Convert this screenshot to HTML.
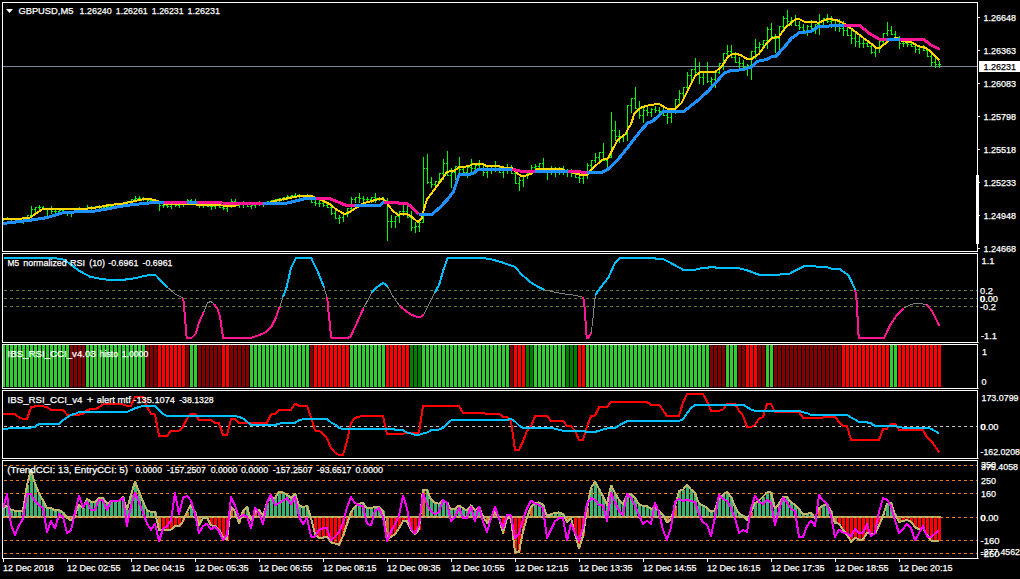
<!DOCTYPE html><html><head><meta charset="utf-8"><title>GBPUSD,M5</title><style>html,body{margin:0;padding:0;background:#000;}body{width:1020px;height:579px;overflow:hidden;font-family:"Liberation Sans", sans-serif;}svg{display:block;font-family:"Liberation Sans", sans-serif;}</style></head><body>
<svg width="1020" height="579" viewBox="0 0 1020 579">
<rect width="1020" height="579" fill="#000"/>
<g shape-rendering="crispEdges">
<rect x="2" y="508.3" width="3" height="8.7" fill="#3CB371"/>
<rect x="6" y="505.4" width="3" height="11.6" fill="#3CB371"/>
<rect x="10" y="509.5" width="3" height="7.5" fill="#3CB371"/>
<rect x="14" y="511" width="3" height="6" fill="#3CB371"/>
<rect x="18" y="511" width="3" height="6" fill="#3CB371"/>
<rect x="22" y="510.6" width="3" height="6.4" fill="#3CB371"/>
<rect x="26" y="485.4" width="3" height="31.6" fill="#3CB371"/>
<rect x="30" y="469.5" width="3" height="47.5" fill="#3CB371"/>
<rect x="34" y="484" width="3" height="33" fill="#3CB371"/>
<rect x="38" y="493" width="3" height="24" fill="#3CB371"/>
<rect x="42" y="500.6" width="3" height="16.4" fill="#3CB371"/>
<rect x="46" y="508.3" width="3" height="8.7" fill="#3CB371"/>
<rect x="50" y="507.7" width="3" height="9.3" fill="#3CB371"/>
<rect x="54" y="510.6" width="3" height="6.4" fill="#3CB371"/>
<rect x="58" y="509.8" width="3" height="7.2" fill="#3CB371"/>
<rect x="62" y="512.4" width="3" height="4.6" fill="#3CB371"/>
<rect x="66" y="517" width="3" height="0.8" fill="#D2691E"/>
<rect x="70" y="517" width="3" height="3.6" fill="#FF0000"/>
<rect x="74" y="514.8" width="3" height="2.2" fill="#D2691E"/>
<rect x="78" y="504.8" width="3" height="12.2" fill="#3CB371"/>
<rect x="82" y="508.3" width="3" height="8.7" fill="#3CB371"/>
<rect x="86" y="498.9" width="3" height="18.1" fill="#3CB371"/>
<rect x="90" y="501.8" width="3" height="15.2" fill="#3CB371"/>
<rect x="94" y="501.8" width="3" height="15.2" fill="#3CB371"/>
<rect x="98" y="498" width="3" height="19" fill="#3CB371"/>
<rect x="102" y="498.3" width="3" height="18.7" fill="#3CB371"/>
<rect x="106" y="503.6" width="3" height="13.4" fill="#3CB371"/>
<rect x="110" y="501.2" width="3" height="15.8" fill="#3CB371"/>
<rect x="114" y="500.9" width="3" height="16.1" fill="#3CB371"/>
<rect x="118" y="500.6" width="3" height="16.4" fill="#3CB371"/>
<rect x="122" y="497.1" width="3" height="19.9" fill="#3CB371"/>
<rect x="126" y="509.5" width="3" height="7.5" fill="#3CB371"/>
<rect x="130" y="494.8" width="3" height="22.2" fill="#3CB371"/>
<rect x="134" y="481.6" width="3" height="35.4" fill="#3CB371"/>
<rect x="138" y="491.8" width="3" height="25.2" fill="#3CB371"/>
<rect x="142" y="501.8" width="3" height="15.2" fill="#3CB371"/>
<rect x="146" y="510.3" width="3" height="6.7" fill="#3CB371"/>
<rect x="150" y="511.8" width="3" height="5.2" fill="#3CB371"/>
<rect x="154" y="511.8" width="3" height="5.2" fill="#3CB371"/>
<rect x="158" y="517" width="3" height="13" fill="#D2691E"/>
<rect x="162" y="517" width="3" height="13" fill="#FF0000"/>
<rect x="166" y="517" width="3" height="13" fill="#FF0000"/>
<rect x="170" y="517" width="3" height="12.5" fill="#FF0000"/>
<rect x="174" y="517" width="3" height="9" fill="#FF0000"/>
<rect x="178" y="517" width="3" height="9.5" fill="#FF0000"/>
<rect x="182" y="517" width="3" height="4.2" fill="#FF0000"/>
<rect x="186" y="511.8" width="3" height="5.2" fill="#D2691E"/>
<rect x="190" y="504.8" width="3" height="12.2" fill="#3CB371"/>
<rect x="194" y="512.4" width="3" height="4.6" fill="#3CB371"/>
<rect x="198" y="517" width="3" height="7.8" fill="#D2691E"/>
<rect x="202" y="517" width="3" height="1.3" fill="#FF0000"/>
<rect x="206" y="517" width="3" height="0.7" fill="#FF0000"/>
<rect x="210" y="517" width="3" height="8.4" fill="#FF0000"/>
<rect x="214" y="517" width="3" height="9" fill="#FF0000"/>
<rect x="218" y="517" width="3" height="12.5" fill="#FF0000"/>
<rect x="222" y="517" width="3" height="20.7" fill="#FF0000"/>
<rect x="226" y="517" width="3" height="22.5" fill="#FF0000"/>
<rect x="230" y="506.5" width="3" height="10.5" fill="#D2691E"/>
<rect x="234" y="511.5" width="3" height="5.5" fill="#3CB371"/>
<rect x="238" y="517" width="3" height="6" fill="#D2691E"/>
<rect x="242" y="511.2" width="3" height="5.8" fill="#D2691E"/>
<rect x="246" y="506.5" width="3" height="10.5" fill="#3CB371"/>
<rect x="250" y="517" width="3" height="3.6" fill="#D2691E"/>
<rect x="254" y="511.8" width="3" height="5.2" fill="#D2691E"/>
<rect x="258" y="509.5" width="3" height="7.5" fill="#3CB371"/>
<rect x="262" y="516" width="3" height="1" fill="#3CB371"/>
<rect x="266" y="503" width="3" height="14" fill="#3CB371"/>
<rect x="270" y="496.5" width="3" height="20.5" fill="#3CB371"/>
<rect x="274" y="498.3" width="3" height="18.7" fill="#3CB371"/>
<rect x="278" y="491.5" width="3" height="25.5" fill="#3CB371"/>
<rect x="282" y="492.4" width="3" height="24.6" fill="#3CB371"/>
<rect x="286" y="494.8" width="3" height="22.2" fill="#3CB371"/>
<rect x="290" y="497.7" width="3" height="19.3" fill="#3CB371"/>
<rect x="294" y="494.2" width="3" height="22.8" fill="#3CB371"/>
<rect x="298" y="505.4" width="3" height="11.6" fill="#3CB371"/>
<rect x="302" y="507.1" width="3" height="9.9" fill="#3CB371"/>
<rect x="306" y="506" width="3" height="11" fill="#3CB371"/>
<rect x="310" y="517" width="3" height="0.9" fill="#D2691E"/>
<rect x="314" y="517" width="3" height="16.6" fill="#FF0000"/>
<rect x="318" y="517" width="3" height="20.7" fill="#FF0000"/>
<rect x="322" y="517" width="3" height="20.7" fill="#FF0000"/>
<rect x="326" y="517" width="3" height="19.5" fill="#FF0000"/>
<rect x="330" y="517" width="3" height="25.4" fill="#FF0000"/>
<rect x="334" y="517" width="3" height="26.6" fill="#FF0000"/>
<rect x="338" y="517" width="3" height="27.8" fill="#FF0000"/>
<rect x="342" y="517" width="3" height="19" fill="#FF0000"/>
<rect x="346" y="517" width="3" height="7.2" fill="#FF0000"/>
<rect x="350" y="511.8" width="3" height="5.2" fill="#D2691E"/>
<rect x="354" y="507.1" width="3" height="9.9" fill="#3CB371"/>
<rect x="358" y="503.6" width="3" height="13.4" fill="#3CB371"/>
<rect x="362" y="503" width="3" height="14" fill="#3CB371"/>
<rect x="366" y="508.3" width="3" height="8.7" fill="#3CB371"/>
<rect x="370" y="508.3" width="3" height="8.7" fill="#3CB371"/>
<rect x="374" y="506.5" width="3" height="10.5" fill="#3CB371"/>
<rect x="378" y="506.5" width="3" height="10.5" fill="#3CB371"/>
<rect x="382" y="510.6" width="3" height="6.4" fill="#3CB371"/>
<rect x="386" y="517" width="3" height="21.3" fill="#D2691E"/>
<rect x="390" y="517" width="3" height="20.1" fill="#FF0000"/>
<rect x="394" y="517" width="3" height="17.2" fill="#FF0000"/>
<rect x="398" y="517" width="3" height="11.3" fill="#FF0000"/>
<rect x="402" y="517" width="3" height="4.2" fill="#FF0000"/>
<rect x="406" y="517" width="3" height="4.2" fill="#FF0000"/>
<rect x="410" y="517" width="3" height="13" fill="#FF0000"/>
<rect x="414" y="517" width="3" height="17.2" fill="#FF0000"/>
<rect x="418" y="517" width="3" height="12.5" fill="#FF0000"/>
<rect x="422" y="489.5" width="3" height="27.5" fill="#D2691E"/>
<rect x="426" y="490" width="3" height="27" fill="#3CB371"/>
<rect x="430" y="499.5" width="3" height="17.5" fill="#3CB371"/>
<rect x="434" y="503" width="3" height="14" fill="#3CB371"/>
<rect x="438" y="503.6" width="3" height="13.4" fill="#3CB371"/>
<rect x="442" y="500.6" width="3" height="16.4" fill="#3CB371"/>
<rect x="446" y="502.4" width="3" height="14.6" fill="#3CB371"/>
<rect x="450" y="509.5" width="3" height="7.5" fill="#3CB371"/>
<rect x="454" y="508.9" width="3" height="8.1" fill="#3CB371"/>
<rect x="458" y="505.4" width="3" height="11.6" fill="#3CB371"/>
<rect x="462" y="508.3" width="3" height="8.7" fill="#3CB371"/>
<rect x="466" y="510.6" width="3" height="6.4" fill="#3CB371"/>
<rect x="470" y="505.4" width="3" height="11.6" fill="#3CB371"/>
<rect x="474" y="510.6" width="3" height="6.4" fill="#3CB371"/>
<rect x="478" y="506.5" width="3" height="10.5" fill="#3CB371"/>
<rect x="486" y="517" width="3" height="6" fill="#D2691E"/>
<rect x="494" y="511.8" width="3" height="5.2" fill="#D2691E"/>
<rect x="498" y="517" width="3" height="1.3" fill="#D2691E"/>
<rect x="502" y="517" width="3" height="16" fill="#FF0000"/>
<rect x="506" y="517" width="3" height="1.3" fill="#FF0000"/>
<rect x="510" y="517" width="3" height="1.3" fill="#FF0000"/>
<rect x="514" y="517" width="3" height="35.4" fill="#FF0000"/>
<rect x="518" y="517" width="3" height="35.4" fill="#FF0000"/>
<rect x="522" y="517" width="3" height="14.2" fill="#FF0000"/>
<rect x="526" y="517" width="3" height="0.7" fill="#FF0000"/>
<rect x="530" y="506.5" width="3" height="10.5" fill="#D2691E"/>
<rect x="534" y="503" width="3" height="14" fill="#3CB371"/>
<rect x="538" y="502.4" width="3" height="14.6" fill="#3CB371"/>
<rect x="542" y="504.8" width="3" height="12.2" fill="#3CB371"/>
<rect x="546" y="516" width="3" height="1" fill="#3CB371"/>
<rect x="550" y="514.2" width="3" height="2.8" fill="#3CB371"/>
<rect x="554" y="513" width="3" height="4" fill="#3CB371"/>
<rect x="558" y="512.4" width="3" height="4.6" fill="#3CB371"/>
<rect x="562" y="514.2" width="3" height="2.8" fill="#3CB371"/>
<rect x="566" y="517" width="3" height="4.8" fill="#D2691E"/>
<rect x="570" y="517" width="3" height="1.3" fill="#FF0000"/>
<rect x="574" y="517" width="3" height="16.6" fill="#FF0000"/>
<rect x="578" y="517" width="3" height="31.3" fill="#FF0000"/>
<rect x="582" y="517" width="3" height="19" fill="#FF0000"/>
<rect x="586" y="508.3" width="3" height="8.7" fill="#D2691E"/>
<rect x="590" y="487.7" width="3" height="29.3" fill="#3CB371"/>
<rect x="594" y="481.6" width="3" height="35.4" fill="#3CB371"/>
<rect x="598" y="489" width="3" height="28" fill="#3CB371"/>
<rect x="602" y="496.5" width="3" height="20.5" fill="#3CB371"/>
<rect x="606" y="504.8" width="3" height="12.2" fill="#3CB371"/>
<rect x="610" y="485.4" width="3" height="31.6" fill="#3CB371"/>
<rect x="614" y="493" width="3" height="24" fill="#3CB371"/>
<rect x="618" y="500" width="3" height="17" fill="#3CB371"/>
<rect x="622" y="504.2" width="3" height="12.8" fill="#3CB371"/>
<rect x="626" y="494.8" width="3" height="22.2" fill="#3CB371"/>
<rect x="630" y="494.2" width="3" height="22.8" fill="#3CB371"/>
<rect x="634" y="498.3" width="3" height="18.7" fill="#3CB371"/>
<rect x="638" y="504.2" width="3" height="12.8" fill="#3CB371"/>
<rect x="642" y="506" width="3" height="11" fill="#3CB371"/>
<rect x="646" y="506" width="3" height="11" fill="#3CB371"/>
<rect x="650" y="508.9" width="3" height="8.1" fill="#3CB371"/>
<rect x="654" y="507.7" width="3" height="9.3" fill="#3CB371"/>
<rect x="658" y="510.6" width="3" height="6.4" fill="#3CB371"/>
<rect x="662" y="514.8" width="3" height="2.2" fill="#3CB371"/>
<rect x="666" y="517" width="3" height="5.4" fill="#D2691E"/>
<rect x="670" y="517" width="3" height="2.5" fill="#FF0000"/>
<rect x="674" y="506" width="3" height="11" fill="#D2691E"/>
<rect x="678" y="491.2" width="3" height="25.8" fill="#3CB371"/>
<rect x="682" y="489.5" width="3" height="27.5" fill="#3CB371"/>
<rect x="686" y="484.8" width="3" height="32.2" fill="#3CB371"/>
<rect x="690" y="489.5" width="3" height="27.5" fill="#3CB371"/>
<rect x="694" y="493" width="3" height="24" fill="#3CB371"/>
<rect x="698" y="503.6" width="3" height="13.4" fill="#3CB371"/>
<rect x="702" y="505.4" width="3" height="11.6" fill="#3CB371"/>
<rect x="706" y="507.7" width="3" height="9.3" fill="#3CB371"/>
<rect x="710" y="511.8" width="3" height="5.2" fill="#3CB371"/>
<rect x="714" y="510" width="3" height="7" fill="#3CB371"/>
<rect x="718" y="498.3" width="3" height="18.7" fill="#3CB371"/>
<rect x="722" y="494.8" width="3" height="22.2" fill="#3CB371"/>
<rect x="726" y="491.8" width="3" height="25.2" fill="#3CB371"/>
<rect x="730" y="497.1" width="3" height="19.9" fill="#3CB371"/>
<rect x="734" y="506.5" width="3" height="10.5" fill="#3CB371"/>
<rect x="738" y="513.6" width="3" height="3.4" fill="#3CB371"/>
<rect x="742" y="515.4" width="3" height="1.6" fill="#3CB371"/>
<rect x="746" y="517" width="3" height="3.6" fill="#D2691E"/>
<rect x="750" y="511.8" width="3" height="5.2" fill="#D2691E"/>
<rect x="754" y="503" width="3" height="14" fill="#3CB371"/>
<rect x="758" y="500.6" width="3" height="16.4" fill="#3CB371"/>
<rect x="762" y="496.5" width="3" height="20.5" fill="#3CB371"/>
<rect x="766" y="492.4" width="3" height="24.6" fill="#3CB371"/>
<rect x="770" y="492.4" width="3" height="24.6" fill="#3CB371"/>
<rect x="774" y="508.3" width="3" height="8.7" fill="#3CB371"/>
<rect x="778" y="503.6" width="3" height="13.4" fill="#3CB371"/>
<rect x="782" y="497.1" width="3" height="19.9" fill="#3CB371"/>
<rect x="786" y="497.1" width="3" height="19.9" fill="#3CB371"/>
<rect x="790" y="502.4" width="3" height="14.6" fill="#3CB371"/>
<rect x="794" y="504.8" width="3" height="12.2" fill="#3CB371"/>
<rect x="798" y="508.9" width="3" height="8.1" fill="#3CB371"/>
<rect x="802" y="514.2" width="3" height="2.8" fill="#3CB371"/>
<rect x="806" y="513.6" width="3" height="3.4" fill="#3CB371"/>
<rect x="810" y="513" width="3" height="4" fill="#3CB371"/>
<rect x="814" y="517" width="3" height="0.7" fill="#D2691E"/>
<rect x="818" y="508.3" width="3" height="8.7" fill="#D2691E"/>
<rect x="822" y="505.4" width="3" height="11.6" fill="#3CB371"/>
<rect x="826" y="504.2" width="3" height="12.8" fill="#3CB371"/>
<rect x="830" y="511.2" width="3" height="5.8" fill="#3CB371"/>
<rect x="834" y="517" width="3" height="6" fill="#D2691E"/>
<rect x="838" y="517" width="3" height="6.6" fill="#FF0000"/>
<rect x="842" y="517" width="3" height="13" fill="#FF0000"/>
<rect x="846" y="517" width="3" height="17.8" fill="#FF0000"/>
<rect x="850" y="517" width="3" height="24.8" fill="#FF0000"/>
<rect x="854" y="517" width="3" height="20.7" fill="#FF0000"/>
<rect x="858" y="517" width="3" height="22.5" fill="#FF0000"/>
<rect x="862" y="517" width="3" height="22.5" fill="#FF0000"/>
<rect x="866" y="517" width="3" height="16" fill="#FF0000"/>
<rect x="870" y="517" width="3" height="16.6" fill="#FF0000"/>
<rect x="874" y="517" width="3" height="16.6" fill="#FF0000"/>
<rect x="878" y="517" width="3" height="8.4" fill="#FF0000"/>
<rect x="882" y="516" width="3" height="1" fill="#D2691E"/>
<rect x="886" y="503.6" width="3" height="13.4" fill="#3CB371"/>
<rect x="890" y="503" width="3" height="14" fill="#3CB371"/>
<rect x="894" y="514.2" width="3" height="2.8" fill="#3CB371"/>
<rect x="898" y="517" width="3" height="4.8" fill="#D2691E"/>
<rect x="902" y="517" width="3" height="4.2" fill="#FF0000"/>
<rect x="906" y="517" width="3" height="3" fill="#FF0000"/>
<rect x="910" y="517" width="3" height="4.8" fill="#FF0000"/>
<rect x="914" y="517" width="3" height="10.1" fill="#FF0000"/>
<rect x="918" y="517" width="3" height="12.5" fill="#FF0000"/>
<rect x="922" y="517" width="3" height="11.3" fill="#FF0000"/>
<rect x="926" y="517" width="3" height="17.8" fill="#FF0000"/>
<rect x="930" y="517" width="3" height="23.6" fill="#FF0000"/>
<rect x="934" y="517" width="3" height="23.6" fill="#FF0000"/>
<rect x="938" y="517" width="3" height="23.6" fill="#FF0000"/>
</g>
<rect x="3" y="516" width="938" height="2" fill="#BDB76B" shape-rendering="crispEdges"/>
<line x1="4" y1="465.5" x2="977" y2="465.5" stroke="#E27A22" stroke-width="1" stroke-dasharray="3 3" shape-rendering="crispEdges"/>
<line x1="4" y1="480.5" x2="977" y2="480.5" stroke="#E27A22" stroke-width="1" stroke-dasharray="3 3" shape-rendering="crispEdges"/>
<line x1="4" y1="493.5" x2="977" y2="493.5" stroke="#E27A22" stroke-width="1" stroke-dasharray="3 3" shape-rendering="crispEdges"/>
<line x1="4" y1="517.5" x2="977" y2="517.5" stroke="#E27A22" stroke-width="1" stroke-dasharray="3 3" shape-rendering="crispEdges"/>
<line x1="4" y1="540.5" x2="977" y2="540.5" stroke="#E27A22" stroke-width="1" stroke-dasharray="3 3" shape-rendering="crispEdges"/>
<line x1="4" y1="553.5" x2="977" y2="553.5" stroke="#E27A22" stroke-width="1" stroke-dasharray="3 3" shape-rendering="crispEdges"/>
<polyline points="3,508.3 7,505.4 11,509.5 15,511 19,511 23,510.6 27,485.4 31,469.5 35,484 39,493 43,500.6 47,508.3 51,507.7 55,510.6 59,509.8 63,512.4 67,517.8 71,520.6 75,514.8 79,504.8 83,508.3 87,498.9 91,501.8 95,501.8 99,498 103,498.3 107,503.6 111,501.2 115,500.9 119,500.6 123,497.1 127,509.5 131,494.8 135,481.6 139,491.8 143,501.8 147,510.3 151,511.8 155,511.8 159,530 163,530 167,530 171,529.5 175,526 179,526.5 183,521.2 187,511.8 191,504.8 195,512.4 199,524.8 203,518.3 207,517.7 211,525.4 215,526 219,529.5 223,537.7 227,539.5 231,506.5 235,511.5 239,523 243,511.2 247,506.5 251,520.6 255,511.8 259,509.5 263,516 267,503 271,496.5 275,498.3 279,491.5 283,492.4 287,494.8 291,497.7 295,494.2 299,505.4 303,507.1 307,506 311,517.9 315,533.6 319,537.7 323,537.7 327,536.5 331,542.4 335,543.6 339,544.8 343,536 347,524.2 351,511.8 355,507.1 359,503.6 363,503 367,508.3 371,508.3 375,506.5 379,506.5 383,510.6 387,538.3 391,537.1 395,534.2 399,528.3 403,521.2 407,521.2 411,530 415,534.2 419,529.5 423,489.5 427,490 431,499.5 435,503 439,503.6 443,500.6 447,502.4 451,509.5 455,508.9 459,505.4 463,508.3 467,510.6 471,505.4 475,510.6 479,506.5 483,516.5 487,523 491,517.4 495,511.8 499,518.3 503,533 507,518.3 511,518.3 515,552.4 519,552.4 523,531.2 527,517.7 531,506.5 535,503 539,502.4 543,504.8 547,516 551,514.2 555,513 559,512.4 563,514.2 567,521.8 571,518.3 575,533.6 579,548.3 583,536 587,508.3 591,487.7 595,481.6 599,489 603,496.5 607,504.8 611,485.4 615,493 619,500 623,504.2 627,494.8 631,494.2 635,498.3 639,504.2 643,506 647,506 651,508.9 655,507.7 659,510.6 663,514.8 667,522.4 671,519.5 675,506 679,491.2 683,489.5 687,484.8 691,489.5 695,493 699,503.6 703,505.4 707,507.7 711,511.8 715,510 719,498.3 723,494.8 727,491.8 731,497.1 735,506.5 739,513.6 743,515.4 747,520.6 751,511.8 755,503 759,500.6 763,496.5 767,492.4 771,492.4 775,508.3 779,503.6 783,497.1 787,497.1 791,502.4 795,504.8 799,508.9 803,514.2 807,513.6 811,513 815,517.7 819,508.3 823,505.4 827,504.2 831,511.2 835,523 839,523.6 843,530 847,534.8 851,541.8 855,537.7 859,539.5 863,539.5 867,533 871,533.6 875,533.6 879,525.4 883,516 887,503.6 891,503 895,514.2 899,521.8 903,521.2 907,520 911,521.8 915,527.1 919,529.5 923,528.3 927,534.8 931,540.6 935,540.6 939,540.6" fill="none" stroke="#BDB76B" stroke-width="2" shape-rendering="crispEdges" stroke-linejoin="round"/>
<polyline points="3,508.3 7,494.2 11,524.8 15,534.8 19,525.4 23,518.9 27,493.6 31,494.2 35,501.2 39,505.4 43,508.3 47,531.8 51,521.2 55,528.3 59,514.2 63,517.1 67,533 71,530.6 75,512.4 79,496 83,507 87,501.8 91,509.8 95,509.8 99,499.5 103,500.6 107,509.8 111,501.2 115,500.9 119,500.6 123,497.7 127,526 131,506 135,493 139,502.4 143,512.4 147,523.6 151,530 155,523.6 159,541.2 163,528.9 167,526 171,520.6 175,493 179,514.2 183,497.7 187,496 191,500.6 195,514.2 199,533 203,526 207,523.6 211,529.5 215,526.5 219,531.2 223,540 227,534.8 231,497.1 235,505.4 239,518.3 243,514.8 247,516.5 251,528.3 255,507.7 259,513 263,524.2 267,502.4 271,494.8 275,505.4 279,503 283,500.6 287,498.3 291,504.2 295,496.5 299,516.5 303,524.2 307,517.7 311,536.5 315,536.5 319,530 323,528.3 327,528.3 331,540.6 335,536.5 339,532.4 343,523 347,507.1 351,497.1 355,503 359,505.4 363,506 367,523.6 371,525.4 375,510.6 379,508.3 383,517 387,541.2 391,531.2 395,524.2 399,516 403,495.4 407,508.3 411,529.5 415,533.6 419,524.8 423,493.6 427,504.2 431,511.2 435,514.2 439,511.8 443,500 447,503 451,521.2 455,517.1 459,507.7 463,517.7 467,517.7 471,506.5 475,521.2 479,506.5 483,521.8 487,531.8 491,518.3 495,507.1 499,518.3 503,528.3 507,514.8 511,515.4 515,538.3 519,533.6 523,519.5 527,508.3 531,500.6 535,503.6 539,504.8 543,508.3 547,537.7 551,529.5 555,521.2 559,518.3 563,518.3 567,540.6 571,523.6 575,533 579,540.6 583,527.1 587,503.6 591,498.3 595,500 599,504.8 603,505.4 607,521.2 611,493 615,502.4 619,510.6 623,515.4 627,494.2 631,497.7 635,506 639,515.4 643,524.2 647,520.6 651,524.2 655,503 659,512.4 663,530 667,540 671,527.1 675,501.8 679,498.9 683,501.2 687,499.5 691,501.2 695,501.8 699,514.2 703,522.4 707,524.8 711,536.5 715,517.1 719,494.8 723,498.9 727,501.2 731,507.7 735,518.3 739,533 743,530 747,531.8 751,508.3 755,496 759,501.8 763,504.2 767,500 771,502.4 775,524.8 779,510 783,497.7 787,502.4 791,508.9 795,511.2 799,537.1 803,537.1 807,526 811,520.6 815,526 819,494.8 823,500.6 827,503.6 831,515.4 835,537.1 839,529.5 843,532.4 847,533.6 851,536.5 855,528.9 859,533.6 863,532.4 867,524.2 871,536 875,533 879,511.8 883,498.3 887,499.5 891,506.5 895,520.6 899,533 903,528.9 907,523.6 911,527.7 915,540.6 919,533 923,526 927,536.5 931,537.1 935,533.6 939,530.6" fill="none" stroke="#FF00FF" stroke-width="2" shape-rendering="crispEdges" stroke-linejoin="round"/>
<line x1="4" y1="426.5" x2="977" y2="426.5" stroke="#C0C0C0" stroke-width="1" stroke-dasharray="3 3" shape-rendering="crispEdges"/>
<polyline points="3,414 7,414 11,414 15,414 19,417.3 23,419 27,419 31,407.3 35,406.4 39,405.9 43,406.1 47,407.3 51,409.9 55,409.9 59,409.9 63,409.9 67,414.7 71,414.9 75,414.9 79,414.6 83,413.8 87,410.2 91,409.1 95,409.1 99,407.3 103,404.4 107,403.8 111,403.8 115,403.8 119,403.8 123,404.4 127,405.9 131,405.9 135,396.9 139,396.7 143,396.7 147,406.5 151,413.8 155,414.4 159,435.8 163,435.8 167,435.8 171,430.8 175,430.6 179,430.6 183,426.7 187,418.5 191,414 195,414 199,420 203,420 207,420 211,420 215,422.8 219,423.2 223,434.9 227,434.9 231,419.1 235,418.8 239,422.8 243,422.8 247,422.8 251,422.8 255,422.8 259,422.8 263,422.8 267,422.8 271,414.4 275,413.8 279,410.2 283,409.9 287,409.9 291,409.9 295,403.5 299,405.8 303,405.8 307,405.8 311,417.3 315,430.6 319,430.8 323,433.8 327,438.5 331,447.9 335,452.6 339,455.2 343,455 347,441.4 351,422.8 355,418.1 359,416.7 363,415.9 367,415.9 371,415.9 375,415.9 379,415.9 383,415.9 387,433.8 391,433.8 395,433.8 399,433.8 403,433.8 407,432.6 411,432.6 415,432.6 419,432.6 423,406.1 427,405.9 431,405.9 435,405.9 439,405.9 443,405.9 447,405.9 451,405.9 455,405.9 459,405.9 463,412.9 467,412.9 471,412.9 475,412.9 479,412.9 483,413.2 487,413.8 491,413.8 495,413.8 499,413.8 503,416.7 507,417.1 511,421.4 515,449.9 519,449.9 523,441.4 527,430.8 531,426.1 535,416.1 539,415.9 543,415.9 547,415.9 551,420.8 555,420.8 559,420.8 563,420.8 567,426.1 571,426.1 575,430.8 579,440 583,440 587,426.1 591,416.1 595,415.5 599,407.3 603,406.9 607,406.9 611,402 615,402 619,402 623,402 627,402 631,402 635,402 639,402 643,402 647,402 651,404.7 655,404.7 659,404.7 663,410.2 667,415.9 671,415.9 675,415.9 679,415.9 683,402.6 687,394.1 691,393.8 695,393.8 699,393.8 703,393.8 707,401.4 711,410.8 715,410.8 719,410.8 723,409.6 727,403.8 731,403.5 735,403.5 739,410.8 743,415.5 747,426.9 751,426.9 755,424.9 759,418.5 763,417.3 767,403.8 771,403.8 775,412 779,412 783,412 787,412 791,412 795,412 799,412 803,417.9 807,417.9 811,417.9 815,417.9 819,417.9 823,417.6 827,416.7 831,416.7 835,416.9 839,422 843,426.1 847,426.1 851,440 855,440 859,440 863,440 867,440 871,440 875,440 879,440 883,429.1 887,428.7 891,424 895,424 899,429.9 903,429.9 907,429.9 911,429.9 915,429.9 919,429.9 923,429.9 927,437.3 931,440.8 935,446.1 939,452.2" fill="none" stroke="#FF0000" stroke-width="2" shape-rendering="crispEdges" stroke-linejoin="round"/>
<polyline points="3,429.1 7,428.7 11,427.6 15,427.6 19,427.6 23,427.6 27,427.6 31,427.6 35,426.7 39,424 43,423.8 47,423.8 51,423.8 55,423.8 59,423.8 63,420.2 67,417.6 71,414.9 75,413.8 79,412.2 83,412 87,412 91,412 95,412 99,412 103,412 107,412 111,412 115,412 119,412 123,412 127,411.8 131,410.2 135,408.2 139,407.1 143,405.9 147,405.9 151,405.9 155,405.9 159,409.6 163,413.8 167,416.1 171,416.1 175,416.1 179,416.1 183,416.1 187,416.1 191,416.1 195,416.1 199,416.1 203,416.1 207,416.1 211,416.1 215,416.1 219,416.1 223,416.1 227,416.1 231,416.1 235,416.1 239,416.9 243,418.5 247,421.6 251,424.9 255,424.9 259,424.9 263,424.9 267,424.9 271,424.9 275,424.9 279,423.8 283,422.8 287,422.8 291,422.8 295,422.8 299,420 303,419.3 307,418.8 311,418.8 315,418.8 319,418.8 323,418.8 327,418.8 331,422.4 335,424.4 339,427.9 343,429.1 347,429.1 351,429.1 355,429.1 359,429.1 363,428.8 367,428.8 371,428.8 375,428.8 379,428.8 383,428.8 387,428.8 391,428.8 395,429.6 399,429.9 403,430.2 407,432.6 411,433.4 415,434.9 419,434.9 423,433.4 427,432.6 431,430.2 435,429.6 439,429.6 443,427.9 447,423.8 451,420.5 455,420.2 459,419.6 463,419.6 467,419.6 471,419.6 475,419.6 479,419.6 483,420 487,420 491,420 495,420 499,420 503,420 507,420 511,418.8 515,421.4 519,425.5 523,427.9 527,427.9 531,427.9 535,427.9 539,427.9 543,427.9 547,427.9 551,427.9 555,428.7 559,429.9 563,430.8 567,430.8 571,430.8 575,430.8 579,430.8 583,430.8 587,432 591,432 595,432 599,430.8 603,429.4 607,428.5 611,427.9 615,427.9 619,425.5 623,423.2 627,421.2 631,420.8 635,420.8 639,420.8 643,420.8 647,420.8 651,420.8 655,420.8 659,420.8 663,420.8 667,420.8 671,420.8 675,420.8 679,420.8 683,419.6 687,413.2 691,407.9 695,405.2 699,404.7 703,404.7 707,404.7 711,404.7 715,404.7 719,404.7 723,404.7 727,404.7 731,404.7 735,404.7 739,404.7 743,404.7 747,407.1 751,409.4 755,410.8 759,410.8 763,410.8 767,410.8 771,410.8 775,410.8 779,410.8 783,410.8 787,410.8 791,410.8 795,410.8 799,410.8 803,412.2 807,413.2 811,414.9 815,414.9 819,414.9 823,414.9 827,414.9 831,414.9 835,414.9 839,414.9 843,414.9 847,414.9 851,417.6 855,419.6 859,422 863,422 867,422.4 871,423.2 875,426.1 879,426.1 883,426.1 887,426.1 891,426.1 895,426.1 899,427.1 903,427.6 907,427.9 911,427.9 915,427.9 919,427.9 923,427.9 927,427.9 931,428.7 935,431.1 939,433.2" fill="none" stroke="#00BFFF" stroke-width="2" shape-rendering="crispEdges" stroke-linejoin="round"/>
<g shape-rendering="crispEdges">
<rect x="2" y="345" width="3" height="42" fill="#32CD32"/>
<rect x="6" y="345" width="3" height="42" fill="#32CD32"/>
<rect x="10" y="345" width="3" height="42" fill="#32CD32"/>
<rect x="14" y="345" width="3" height="42" fill="#32CD32"/>
<rect x="18" y="345" width="3" height="42" fill="#32CD32"/>
<rect x="22" y="345" width="3" height="42" fill="#32CD32"/>
<rect x="26" y="345" width="3" height="42" fill="#32CD32"/>
<rect x="30" y="345" width="3" height="42" fill="#32CD32"/>
<rect x="34" y="345" width="3" height="42" fill="#32CD32"/>
<rect x="38" y="345" width="3" height="42" fill="#32CD32"/>
<rect x="42" y="345" width="3" height="42" fill="#32CD32"/>
<rect x="46" y="345" width="3" height="42" fill="#32CD32"/>
<rect x="50" y="345" width="3" height="42" fill="#32CD32"/>
<rect x="54" y="345" width="3" height="42" fill="#32CD32"/>
<rect x="58" y="345" width="3" height="42" fill="#32CD32"/>
<rect x="62" y="345" width="3" height="42" fill="#32CD32"/>
<rect x="66" y="345" width="3" height="42" fill="#32CD32"/>
<rect x="70" y="345" width="3" height="42" fill="#840000"/>
<rect x="74" y="345" width="3" height="42" fill="#840000"/>
<rect x="78" y="345" width="3" height="42" fill="#840000"/>
<rect x="82" y="345" width="3" height="42" fill="#840000"/>
<rect x="86" y="345" width="3" height="42" fill="#32CD32"/>
<rect x="90" y="345" width="3" height="42" fill="#32CD32"/>
<rect x="94" y="345" width="3" height="42" fill="#32CD32"/>
<rect x="98" y="345" width="3" height="42" fill="#32CD32"/>
<rect x="102" y="345" width="3" height="42" fill="#32CD32"/>
<rect x="106" y="345" width="3" height="42" fill="#32CD32"/>
<rect x="110" y="345" width="3" height="42" fill="#32CD32"/>
<rect x="114" y="345" width="3" height="42" fill="#32CD32"/>
<rect x="118" y="345" width="3" height="42" fill="#32CD32"/>
<rect x="122" y="345" width="3" height="42" fill="#32CD32"/>
<rect x="126" y="345" width="3" height="42" fill="#32CD32"/>
<rect x="130" y="345" width="3" height="42" fill="#32CD32"/>
<rect x="134" y="345" width="3" height="42" fill="#32CD32"/>
<rect x="138" y="345" width="3" height="42" fill="#32CD32"/>
<rect x="142" y="345" width="3" height="42" fill="#32CD32"/>
<rect x="146" y="345" width="3" height="42" fill="#840000"/>
<rect x="150" y="345" width="3" height="42" fill="#840000"/>
<rect x="154" y="345" width="3" height="42" fill="#840000"/>
<rect x="158" y="345" width="3" height="42" fill="#FF0000"/>
<rect x="162" y="345" width="3" height="42" fill="#FF0000"/>
<rect x="166" y="345" width="3" height="42" fill="#FF0000"/>
<rect x="170" y="345" width="3" height="42" fill="#FF0000"/>
<rect x="174" y="345" width="3" height="42" fill="#FF0000"/>
<rect x="178" y="345" width="3" height="42" fill="#FF0000"/>
<rect x="182" y="345" width="3" height="42" fill="#FF0000"/>
<rect x="186" y="345" width="3" height="42" fill="#840000"/>
<rect x="190" y="345" width="3" height="42" fill="#32CD32"/>
<rect x="194" y="345" width="3" height="42" fill="#32CD32"/>
<rect x="198" y="345" width="3" height="42" fill="#840000"/>
<rect x="202" y="345" width="3" height="42" fill="#840000"/>
<rect x="206" y="345" width="3" height="42" fill="#840000"/>
<rect x="210" y="345" width="3" height="42" fill="#840000"/>
<rect x="214" y="345" width="3" height="42" fill="#840000"/>
<rect x="218" y="345" width="3" height="42" fill="#840000"/>
<rect x="222" y="345" width="3" height="42" fill="#FF0000"/>
<rect x="226" y="345" width="3" height="42" fill="#FF0000"/>
<rect x="230" y="345" width="3" height="42" fill="#840000"/>
<rect x="234" y="345" width="3" height="42" fill="#840000"/>
<rect x="238" y="345" width="3" height="42" fill="#840000"/>
<rect x="242" y="345" width="3" height="42" fill="#840000"/>
<rect x="246" y="345" width="3" height="42" fill="#840000"/>
<rect x="250" y="345" width="3" height="42" fill="#32CD32"/>
<rect x="254" y="345" width="3" height="42" fill="#32CD32"/>
<rect x="258" y="345" width="3" height="42" fill="#32CD32"/>
<rect x="262" y="345" width="3" height="42" fill="#32CD32"/>
<rect x="266" y="345" width="3" height="42" fill="#32CD32"/>
<rect x="270" y="345" width="3" height="42" fill="#32CD32"/>
<rect x="274" y="345" width="3" height="42" fill="#32CD32"/>
<rect x="278" y="345" width="3" height="42" fill="#32CD32"/>
<rect x="282" y="345" width="3" height="42" fill="#32CD32"/>
<rect x="286" y="345" width="3" height="42" fill="#32CD32"/>
<rect x="290" y="345" width="3" height="42" fill="#32CD32"/>
<rect x="294" y="345" width="3" height="42" fill="#32CD32"/>
<rect x="298" y="345" width="3" height="42" fill="#32CD32"/>
<rect x="302" y="345" width="3" height="42" fill="#32CD32"/>
<rect x="306" y="345" width="3" height="42" fill="#32CD32"/>
<rect x="310" y="345" width="3" height="42" fill="#840000"/>
<rect x="314" y="345" width="3" height="42" fill="#FF0000"/>
<rect x="318" y="345" width="3" height="42" fill="#FF0000"/>
<rect x="322" y="345" width="3" height="42" fill="#FF0000"/>
<rect x="326" y="345" width="3" height="42" fill="#FF0000"/>
<rect x="330" y="345" width="3" height="42" fill="#FF0000"/>
<rect x="334" y="345" width="3" height="42" fill="#FF0000"/>
<rect x="338" y="345" width="3" height="42" fill="#FF0000"/>
<rect x="342" y="345" width="3" height="42" fill="#FF0000"/>
<rect x="346" y="345" width="3" height="42" fill="#FF0000"/>
<rect x="350" y="345" width="3" height="42" fill="#32CD32"/>
<rect x="354" y="345" width="3" height="42" fill="#32CD32"/>
<rect x="358" y="345" width="3" height="42" fill="#32CD32"/>
<rect x="362" y="345" width="3" height="42" fill="#32CD32"/>
<rect x="366" y="345" width="3" height="42" fill="#32CD32"/>
<rect x="370" y="345" width="3" height="42" fill="#32CD32"/>
<rect x="374" y="345" width="3" height="42" fill="#32CD32"/>
<rect x="378" y="345" width="3" height="42" fill="#32CD32"/>
<rect x="382" y="345" width="3" height="42" fill="#32CD32"/>
<rect x="386" y="345" width="3" height="42" fill="#FF0000"/>
<rect x="390" y="345" width="3" height="42" fill="#FF0000"/>
<rect x="394" y="345" width="3" height="42" fill="#FF0000"/>
<rect x="398" y="345" width="3" height="42" fill="#FF0000"/>
<rect x="402" y="345" width="3" height="42" fill="#FF0000"/>
<rect x="406" y="345" width="3" height="42" fill="#FF0000"/>
<rect x="410" y="345" width="3" height="42" fill="#008000"/>
<rect x="414" y="345" width="3" height="42" fill="#008000"/>
<rect x="418" y="345" width="3" height="42" fill="#008000"/>
<rect x="422" y="345" width="3" height="42" fill="#32CD32"/>
<rect x="426" y="345" width="3" height="42" fill="#32CD32"/>
<rect x="430" y="345" width="3" height="42" fill="#32CD32"/>
<rect x="434" y="345" width="3" height="42" fill="#32CD32"/>
<rect x="438" y="345" width="3" height="42" fill="#32CD32"/>
<rect x="442" y="345" width="3" height="42" fill="#32CD32"/>
<rect x="446" y="345" width="3" height="42" fill="#32CD32"/>
<rect x="450" y="345" width="3" height="42" fill="#32CD32"/>
<rect x="454" y="345" width="3" height="42" fill="#32CD32"/>
<rect x="458" y="345" width="3" height="42" fill="#32CD32"/>
<rect x="462" y="345" width="3" height="42" fill="#32CD32"/>
<rect x="466" y="345" width="3" height="42" fill="#32CD32"/>
<rect x="470" y="345" width="3" height="42" fill="#32CD32"/>
<rect x="474" y="345" width="3" height="42" fill="#32CD32"/>
<rect x="478" y="345" width="3" height="42" fill="#32CD32"/>
<rect x="482" y="345" width="3" height="42" fill="#32CD32"/>
<rect x="486" y="345" width="3" height="42" fill="#32CD32"/>
<rect x="490" y="345" width="3" height="42" fill="#32CD32"/>
<rect x="494" y="345" width="3" height="42" fill="#32CD32"/>
<rect x="498" y="345" width="3" height="42" fill="#32CD32"/>
<rect x="502" y="345" width="3" height="42" fill="#32CD32"/>
<rect x="506" y="345" width="3" height="42" fill="#32CD32"/>
<rect x="510" y="345" width="3" height="42" fill="#840000"/>
<rect x="514" y="345" width="3" height="42" fill="#FF0000"/>
<rect x="518" y="345" width="3" height="42" fill="#FF0000"/>
<rect x="522" y="345" width="3" height="42" fill="#FF0000"/>
<rect x="526" y="345" width="3" height="42" fill="#008000"/>
<rect x="530" y="345" width="3" height="42" fill="#008000"/>
<rect x="534" y="345" width="3" height="42" fill="#32CD32"/>
<rect x="538" y="345" width="3" height="42" fill="#32CD32"/>
<rect x="542" y="345" width="3" height="42" fill="#32CD32"/>
<rect x="546" y="345" width="3" height="42" fill="#32CD32"/>
<rect x="550" y="345" width="3" height="42" fill="#32CD32"/>
<rect x="554" y="345" width="3" height="42" fill="#32CD32"/>
<rect x="558" y="345" width="3" height="42" fill="#32CD32"/>
<rect x="562" y="345" width="3" height="42" fill="#32CD32"/>
<rect x="566" y="345" width="3" height="42" fill="#008000"/>
<rect x="570" y="345" width="3" height="42" fill="#008000"/>
<rect x="574" y="345" width="3" height="42" fill="#008000"/>
<rect x="578" y="345" width="3" height="42" fill="#FF0000"/>
<rect x="582" y="345" width="3" height="42" fill="#FF0000"/>
<rect x="586" y="345" width="3" height="42" fill="#32CD32"/>
<rect x="590" y="345" width="3" height="42" fill="#32CD32"/>
<rect x="594" y="345" width="3" height="42" fill="#32CD32"/>
<rect x="598" y="345" width="3" height="42" fill="#32CD32"/>
<rect x="602" y="345" width="3" height="42" fill="#32CD32"/>
<rect x="606" y="345" width="3" height="42" fill="#32CD32"/>
<rect x="610" y="345" width="3" height="42" fill="#32CD32"/>
<rect x="614" y="345" width="3" height="42" fill="#32CD32"/>
<rect x="618" y="345" width="3" height="42" fill="#32CD32"/>
<rect x="622" y="345" width="3" height="42" fill="#32CD32"/>
<rect x="626" y="345" width="3" height="42" fill="#32CD32"/>
<rect x="630" y="345" width="3" height="42" fill="#32CD32"/>
<rect x="634" y="345" width="3" height="42" fill="#32CD32"/>
<rect x="638" y="345" width="3" height="42" fill="#32CD32"/>
<rect x="642" y="345" width="3" height="42" fill="#32CD32"/>
<rect x="646" y="345" width="3" height="42" fill="#32CD32"/>
<rect x="650" y="345" width="3" height="42" fill="#32CD32"/>
<rect x="654" y="345" width="3" height="42" fill="#32CD32"/>
<rect x="658" y="345" width="3" height="42" fill="#32CD32"/>
<rect x="662" y="345" width="3" height="42" fill="#32CD32"/>
<rect x="666" y="345" width="3" height="42" fill="#32CD32"/>
<rect x="670" y="345" width="3" height="42" fill="#32CD32"/>
<rect x="674" y="345" width="3" height="42" fill="#32CD32"/>
<rect x="678" y="345" width="3" height="42" fill="#32CD32"/>
<rect x="682" y="345" width="3" height="42" fill="#32CD32"/>
<rect x="686" y="345" width="3" height="42" fill="#32CD32"/>
<rect x="690" y="345" width="3" height="42" fill="#32CD32"/>
<rect x="694" y="345" width="3" height="42" fill="#32CD32"/>
<rect x="698" y="345" width="3" height="42" fill="#32CD32"/>
<rect x="702" y="345" width="3" height="42" fill="#32CD32"/>
<rect x="706" y="345" width="3" height="42" fill="#32CD32"/>
<rect x="710" y="345" width="3" height="42" fill="#840000"/>
<rect x="714" y="345" width="3" height="42" fill="#840000"/>
<rect x="718" y="345" width="3" height="42" fill="#840000"/>
<rect x="722" y="345" width="3" height="42" fill="#840000"/>
<rect x="726" y="345" width="3" height="42" fill="#32CD32"/>
<rect x="730" y="345" width="3" height="42" fill="#32CD32"/>
<rect x="734" y="345" width="3" height="42" fill="#32CD32"/>
<rect x="738" y="345" width="3" height="42" fill="#840000"/>
<rect x="742" y="345" width="3" height="42" fill="#840000"/>
<rect x="746" y="345" width="3" height="42" fill="#FF0000"/>
<rect x="750" y="345" width="3" height="42" fill="#FF0000"/>
<rect x="754" y="345" width="3" height="42" fill="#FF0000"/>
<rect x="758" y="345" width="3" height="42" fill="#840000"/>
<rect x="762" y="345" width="3" height="42" fill="#840000"/>
<rect x="766" y="345" width="3" height="42" fill="#32CD32"/>
<rect x="770" y="345" width="3" height="42" fill="#32CD32"/>
<rect x="774" y="345" width="3" height="42" fill="#840000"/>
<rect x="778" y="345" width="3" height="42" fill="#840000"/>
<rect x="782" y="345" width="3" height="42" fill="#840000"/>
<rect x="786" y="345" width="3" height="42" fill="#840000"/>
<rect x="790" y="345" width="3" height="42" fill="#840000"/>
<rect x="794" y="345" width="3" height="42" fill="#840000"/>
<rect x="798" y="345" width="3" height="42" fill="#840000"/>
<rect x="802" y="345" width="3" height="42" fill="#840000"/>
<rect x="806" y="345" width="3" height="42" fill="#840000"/>
<rect x="810" y="345" width="3" height="42" fill="#840000"/>
<rect x="814" y="345" width="3" height="42" fill="#840000"/>
<rect x="818" y="345" width="3" height="42" fill="#840000"/>
<rect x="822" y="345" width="3" height="42" fill="#840000"/>
<rect x="826" y="345" width="3" height="42" fill="#840000"/>
<rect x="830" y="345" width="3" height="42" fill="#840000"/>
<rect x="834" y="345" width="3" height="42" fill="#840000"/>
<rect x="838" y="345" width="3" height="42" fill="#840000"/>
<rect x="842" y="345" width="3" height="42" fill="#FF0000"/>
<rect x="846" y="345" width="3" height="42" fill="#FF0000"/>
<rect x="850" y="345" width="3" height="42" fill="#FF0000"/>
<rect x="854" y="345" width="3" height="42" fill="#FF0000"/>
<rect x="858" y="345" width="3" height="42" fill="#FF0000"/>
<rect x="862" y="345" width="3" height="42" fill="#FF0000"/>
<rect x="866" y="345" width="3" height="42" fill="#FF0000"/>
<rect x="870" y="345" width="3" height="42" fill="#FF0000"/>
<rect x="874" y="345" width="3" height="42" fill="#FF0000"/>
<rect x="878" y="345" width="3" height="42" fill="#FF0000"/>
<rect x="882" y="345" width="3" height="42" fill="#FF0000"/>
<rect x="886" y="345" width="3" height="42" fill="#FF0000"/>
<rect x="890" y="345" width="3" height="42" fill="#32CD32"/>
<rect x="894" y="345" width="3" height="42" fill="#32CD32"/>
<rect x="898" y="345" width="3" height="42" fill="#FF0000"/>
<rect x="902" y="345" width="3" height="42" fill="#FF0000"/>
<rect x="906" y="345" width="3" height="42" fill="#FF0000"/>
<rect x="910" y="345" width="3" height="42" fill="#FF0000"/>
<rect x="914" y="345" width="3" height="42" fill="#FF0000"/>
<rect x="918" y="345" width="3" height="42" fill="#FF0000"/>
<rect x="922" y="345" width="3" height="42" fill="#FF0000"/>
<rect x="926" y="345" width="3" height="42" fill="#FF0000"/>
<rect x="930" y="345" width="3" height="42" fill="#FF0000"/>
<rect x="934" y="345" width="3" height="42" fill="#FF0000"/>
<rect x="938" y="345" width="3" height="42" fill="#FF0000"/>
</g>
<line x1="4" y1="290.5" x2="977" y2="290.5" stroke="#5F7D32" stroke-width="1" stroke-dasharray="3 3" shape-rendering="crispEdges"/>
<line x1="4" y1="298.5" x2="977" y2="298.5" stroke="#5F7D32" stroke-width="1" stroke-dasharray="3 3" shape-rendering="crispEdges"/>
<line x1="4" y1="306.5" x2="977" y2="306.5" stroke="#5F7D32" stroke-width="1" stroke-dasharray="3 3" shape-rendering="crispEdges"/>
<polyline points="3.5,258.2 55,258.2 63.3,259.5 70,263.7 78.3,270.3 90,276.7 100,278.7 108.3,279.8 123.3,279.8 135,278.3 145,275.8 155,274.5 167.5,287.4" fill="none" stroke="#00BFFF" stroke-width="2" shape-rendering="crispEdges" stroke-linejoin="round"/>
<polyline points="167.5,287.4 175,294 183.3,298.3" fill="none" stroke="#808080" stroke-width="1" shape-rendering="crispEdges" stroke-linejoin="round"/>
<polyline points="183.3,298.3 186.7,337.8 191.7,337.8 195.8,333.7 199.2,322 203.7,312.3" fill="none" stroke="#FF1493" stroke-width="2" shape-rendering="crispEdges" stroke-linejoin="round"/>
<polyline points="203.7,312.3 207.5,302.8 210.8,301.5 214.2,304" fill="none" stroke="#808080" stroke-width="1" shape-rendering="crispEdges" stroke-linejoin="round"/>
<polyline points="214.2,304 217.5,308.7 220,316.2 223,337.8 250.8,337.8 260,334.8 266.7,331.7 271.7,326.2 275.8,317.8 279.7,307" fill="none" stroke="#FF1493" stroke-width="2" shape-rendering="crispEdges" stroke-linejoin="round"/>
<polyline points="279.7,307 283,297" fill="none" stroke="#808080" stroke-width="1" shape-rendering="crispEdges" stroke-linejoin="round"/>
<polyline points="283,297 286.7,287 290.8,268.7 295.8,258.2 311.3,258.2 318.3,272.8 323.9,287.2" fill="none" stroke="#00BFFF" stroke-width="2" shape-rendering="crispEdges" stroke-linejoin="round"/>
<polyline points="323.9,287.2 327.1,297" fill="none" stroke="#808080" stroke-width="1" shape-rendering="crispEdges" stroke-linejoin="round"/>
<polyline points="327.1,297 329.2,318.7 331.3,337.8 348.3,337.8 350.8,336.2 355.8,325.3 363.7,307.8" fill="none" stroke="#FF1493" stroke-width="2" shape-rendering="crispEdges" stroke-linejoin="round"/>
<polyline points="363.7,307.8 371.7,292.8" fill="none" stroke="#808080" stroke-width="1" shape-rendering="crispEdges" stroke-linejoin="round"/>
<polyline points="371.7,292.8 374.2,289.5 378.3,286.2 383.3,282.8 387.5,286.7" fill="none" stroke="#00BFFF" stroke-width="2" shape-rendering="crispEdges" stroke-linejoin="round"/>
<polyline points="387.5,286.7 393.3,297 399.7,305.7" fill="none" stroke="#808080" stroke-width="1" shape-rendering="crispEdges" stroke-linejoin="round"/>
<polyline points="399.7,305.7 405,310.3 410.8,314.5 416.7,316.7 420.8,316.7 423.7,314.5" fill="none" stroke="#FF1493" stroke-width="2" shape-rendering="crispEdges" stroke-linejoin="round"/>
<polyline points="423.7,314.5 435,292.3" fill="none" stroke="#808080" stroke-width="1" shape-rendering="crispEdges" stroke-linejoin="round"/>
<polyline points="435,292.3 439.2,284.5 443.3,270.3 447.5,258.2 483.3,258.2 490,259 500,261.7 508.3,264.5 515,267 521.7,274.5 530,282 538.3,287 544.2,289.8" fill="none" stroke="#00BFFF" stroke-width="2" shape-rendering="crispEdges" stroke-linejoin="round"/>
<polyline points="544.2,289.8 560,293.3 575,295.3 583.3,297.3" fill="none" stroke="#808080" stroke-width="1" shape-rendering="crispEdges" stroke-linejoin="round"/>
<polyline points="583.3,297.3 584.7,308.7 586.7,337.8 588.3,337.8 591.3,332.8" fill="none" stroke="#FF1493" stroke-width="2" shape-rendering="crispEdges" stroke-linejoin="round"/>
<polyline points="591.3,332.8 593.3,315.3 595.3,295.7" fill="none" stroke="#808080" stroke-width="1" shape-rendering="crispEdges" stroke-linejoin="round"/>
<polyline points="595.3,295.7 596.2,293.7 600,288.3 608.3,277.8 615,262.8 620,258.2 655,258.2 656.7,259 663.3,259 683.3,269.8 695,269.8 700.8,268.2 707.5,268.2 709.2,267 715,267 715.8,268.2 739.2,268.2 748.3,270.7 756.7,274 760,275 779.2,275 780.8,273.8 789.2,273.8 804.2,266.1 815,266.1 816.7,267 826.7,267 831.7,268.7 839.2,268.7 845,272.8 848.3,275.3 851.7,282 855.3,290" fill="none" stroke="#00BFFF" stroke-width="2" shape-rendering="crispEdges" stroke-linejoin="round"/>
<polyline points="855.3,290 856.7,302 858.7,337.8 884.2,337.8 890,325.3 896.7,315.3 903.7,308.3" fill="none" stroke="#FF1493" stroke-width="2" shape-rendering="crispEdges" stroke-linejoin="round"/>
<polyline points="903.7,308.3 908.3,305.7 915,303.3 920.8,303.3 926.7,305" fill="none" stroke="#808080" stroke-width="1" shape-rendering="crispEdges" stroke-linejoin="round"/>
<polyline points="926.7,305 931.7,310.3 935.8,318.7 939.2,325.8" fill="none" stroke="#FF1493" stroke-width="2" shape-rendering="crispEdges" stroke-linejoin="round"/>
<rect x="3" y="66" width="974" height="1" fill="#778899" shape-rendering="crispEdges"/>
<g fill="#00FF00" shape-rendering="crispEdges">
<rect x="3" y="219" width="1" height="2"/>
<rect x="2" y="219" width="1" height="1"/>
<rect x="4" y="219" width="1" height="1"/>
<rect x="7" y="217" width="1" height="3"/>
<rect x="6" y="219" width="1" height="1"/>
<rect x="8" y="219" width="1" height="1"/>
<rect x="11" y="218" width="1" height="3"/>
<rect x="10" y="219" width="1" height="1"/>
<rect x="12" y="219" width="1" height="1"/>
<rect x="15" y="218" width="1" height="3"/>
<rect x="14" y="219" width="1" height="1"/>
<rect x="16" y="219" width="1" height="1"/>
<rect x="19" y="218" width="1" height="3"/>
<rect x="18" y="219" width="1" height="1"/>
<rect x="20" y="220" width="1" height="1"/>
<rect x="23" y="217" width="1" height="7"/>
<rect x="22" y="220" width="1" height="1"/>
<rect x="24" y="217" width="1" height="1"/>
<rect x="27" y="215" width="1" height="4"/>
<rect x="26" y="217" width="1" height="1"/>
<rect x="28" y="215" width="1" height="1"/>
<rect x="31" y="206" width="1" height="13"/>
<rect x="30" y="215" width="1" height="1"/>
<rect x="32" y="209" width="1" height="1"/>
<rect x="35" y="207" width="1" height="6"/>
<rect x="34" y="209" width="1" height="1"/>
<rect x="36" y="207" width="1" height="1"/>
<rect x="39" y="205" width="1" height="6"/>
<rect x="38" y="207" width="1" height="1"/>
<rect x="40" y="207" width="1" height="1"/>
<rect x="43" y="206" width="1" height="4"/>
<rect x="42" y="207" width="1" height="1"/>
<rect x="44" y="209" width="1" height="1"/>
<rect x="47" y="209" width="1" height="8"/>
<rect x="46" y="209" width="1" height="1"/>
<rect x="48" y="209" width="1" height="1"/>
<rect x="51" y="206" width="1" height="8"/>
<rect x="50" y="209" width="1" height="1"/>
<rect x="52" y="211" width="1" height="1"/>
<rect x="55" y="209" width="1" height="5"/>
<rect x="54" y="211" width="1" height="1"/>
<rect x="56" y="211" width="1" height="1"/>
<rect x="59" y="210" width="1" height="4"/>
<rect x="58" y="211" width="1" height="1"/>
<rect x="60" y="210" width="1" height="1"/>
<rect x="63" y="209" width="1" height="4"/>
<rect x="62" y="210" width="1" height="1"/>
<rect x="64" y="212" width="1" height="1"/>
<rect x="67" y="211" width="1" height="5"/>
<rect x="66" y="212" width="1" height="1"/>
<rect x="68" y="213" width="1" height="1"/>
<rect x="71" y="211" width="1" height="6"/>
<rect x="70" y="213" width="1" height="1"/>
<rect x="72" y="211" width="1" height="1"/>
<rect x="75" y="209" width="1" height="4"/>
<rect x="74" y="211" width="1" height="1"/>
<rect x="76" y="209" width="1" height="1"/>
<rect x="79" y="207" width="1" height="4"/>
<rect x="78" y="209" width="1" height="1"/>
<rect x="80" y="209" width="1" height="1"/>
<rect x="83" y="208" width="1" height="3"/>
<rect x="82" y="209" width="1" height="1"/>
<rect x="84" y="208" width="1" height="1"/>
<rect x="87" y="205" width="1" height="5"/>
<rect x="86" y="208" width="1" height="1"/>
<rect x="88" y="207" width="1" height="1"/>
<rect x="91" y="206" width="1" height="4"/>
<rect x="90" y="207" width="1" height="1"/>
<rect x="92" y="207" width="1" height="1"/>
<rect x="95" y="206" width="1" height="4"/>
<rect x="94" y="207" width="1" height="1"/>
<rect x="96" y="207" width="1" height="1"/>
<rect x="99" y="205" width="1" height="5"/>
<rect x="98" y="207" width="1" height="1"/>
<rect x="100" y="206" width="1" height="1"/>
<rect x="103" y="205" width="1" height="3"/>
<rect x="102" y="206" width="1" height="1"/>
<rect x="104" y="207" width="1" height="1"/>
<rect x="107" y="206" width="1" height="3"/>
<rect x="106" y="207" width="1" height="1"/>
<rect x="108" y="206" width="1" height="1"/>
<rect x="111" y="204" width="1" height="4"/>
<rect x="110" y="206" width="1" height="1"/>
<rect x="112" y="204" width="1" height="1"/>
<rect x="115" y="203" width="1" height="3"/>
<rect x="114" y="204" width="1" height="1"/>
<rect x="116" y="204" width="1" height="1"/>
<rect x="119" y="203" width="1" height="4"/>
<rect x="118" y="204" width="1" height="1"/>
<rect x="120" y="203" width="1" height="1"/>
<rect x="123" y="202" width="1" height="4"/>
<rect x="122" y="203" width="1" height="1"/>
<rect x="124" y="202" width="1" height="1"/>
<rect x="127" y="201" width="1" height="4"/>
<rect x="126" y="202" width="1" height="1"/>
<rect x="128" y="201" width="1" height="1"/>
<rect x="131" y="199" width="1" height="5"/>
<rect x="130" y="201" width="1" height="1"/>
<rect x="132" y="199" width="1" height="1"/>
<rect x="135" y="196" width="1" height="6"/>
<rect x="134" y="199" width="1" height="1"/>
<rect x="136" y="198" width="1" height="1"/>
<rect x="139" y="196" width="1" height="5"/>
<rect x="138" y="198" width="1" height="1"/>
<rect x="140" y="198" width="1" height="1"/>
<rect x="143" y="197" width="1" height="4"/>
<rect x="142" y="198" width="1" height="1"/>
<rect x="144" y="199" width="1" height="1"/>
<rect x="147" y="198" width="1" height="4"/>
<rect x="146" y="199" width="1" height="1"/>
<rect x="148" y="200" width="1" height="1"/>
<rect x="151" y="199" width="1" height="4"/>
<rect x="150" y="200" width="1" height="1"/>
<rect x="152" y="201" width="1" height="1"/>
<rect x="155" y="200" width="1" height="4"/>
<rect x="154" y="201" width="1" height="1"/>
<rect x="156" y="203" width="1" height="1"/>
<rect x="159" y="203" width="1" height="8"/>
<rect x="158" y="203" width="1" height="1"/>
<rect x="160" y="205" width="1" height="1"/>
<rect x="163" y="203" width="1" height="5"/>
<rect x="162" y="205" width="1" height="1"/>
<rect x="164" y="205" width="1" height="1"/>
<rect x="167" y="204" width="1" height="4"/>
<rect x="166" y="205" width="1" height="1"/>
<rect x="168" y="206" width="1" height="1"/>
<rect x="171" y="204" width="1" height="5"/>
<rect x="170" y="206" width="1" height="1"/>
<rect x="172" y="204" width="1" height="1"/>
<rect x="175" y="203" width="1" height="4"/>
<rect x="174" y="204" width="1" height="1"/>
<rect x="176" y="205" width="1" height="1"/>
<rect x="179" y="203" width="1" height="5"/>
<rect x="178" y="205" width="1" height="1"/>
<rect x="180" y="204" width="1" height="1"/>
<rect x="183" y="203" width="1" height="4"/>
<rect x="182" y="204" width="1" height="1"/>
<rect x="184" y="203" width="1" height="1"/>
<rect x="187" y="199" width="1" height="5"/>
<rect x="186" y="203" width="1" height="1"/>
<rect x="188" y="200" width="1" height="1"/>
<rect x="191" y="199" width="1" height="4"/>
<rect x="190" y="200" width="1" height="1"/>
<rect x="192" y="201" width="1" height="1"/>
<rect x="195" y="199" width="1" height="5"/>
<rect x="194" y="201" width="1" height="1"/>
<rect x="196" y="203" width="1" height="1"/>
<rect x="199" y="203" width="1" height="5"/>
<rect x="198" y="203" width="1" height="1"/>
<rect x="200" y="205" width="1" height="1"/>
<rect x="203" y="203" width="1" height="5"/>
<rect x="202" y="205" width="1" height="1"/>
<rect x="204" y="204" width="1" height="1"/>
<rect x="207" y="203" width="1" height="4"/>
<rect x="206" y="204" width="1" height="1"/>
<rect x="208" y="206" width="1" height="1"/>
<rect x="211" y="204" width="1" height="6"/>
<rect x="210" y="206" width="1" height="1"/>
<rect x="212" y="206" width="1" height="1"/>
<rect x="215" y="204" width="1" height="5"/>
<rect x="214" y="206" width="1" height="1"/>
<rect x="216" y="205" width="1" height="1"/>
<rect x="219" y="204" width="1" height="4"/>
<rect x="218" y="205" width="1" height="1"/>
<rect x="220" y="207" width="1" height="1"/>
<rect x="223" y="205" width="1" height="5"/>
<rect x="222" y="207" width="1" height="1"/>
<rect x="224" y="208" width="1" height="1"/>
<rect x="227" y="206" width="1" height="6"/>
<rect x="226" y="208" width="1" height="1"/>
<rect x="228" y="206" width="1" height="1"/>
<rect x="231" y="199" width="1" height="9"/>
<rect x="230" y="206" width="1" height="1"/>
<rect x="232" y="201" width="1" height="1"/>
<rect x="235" y="199" width="1" height="5"/>
<rect x="234" y="201" width="1" height="1"/>
<rect x="236" y="203" width="1" height="1"/>
<rect x="239" y="204" width="1" height="4"/>
<rect x="238" y="204" width="1" height="1"/>
<rect x="240" y="204" width="1" height="1"/>
<rect x="243" y="201" width="1" height="7"/>
<rect x="242" y="204" width="1" height="1"/>
<rect x="244" y="204" width="1" height="1"/>
<rect x="247" y="203" width="1" height="4"/>
<rect x="246" y="204" width="1" height="1"/>
<rect x="248" y="206" width="1" height="1"/>
<rect x="251" y="204" width="1" height="5"/>
<rect x="250" y="206" width="1" height="1"/>
<rect x="252" y="205" width="1" height="1"/>
<rect x="255" y="204" width="1" height="4"/>
<rect x="254" y="205" width="1" height="1"/>
<rect x="256" y="204" width="1" height="1"/>
<rect x="259" y="201" width="1" height="5"/>
<rect x="258" y="204" width="1" height="1"/>
<rect x="260" y="204" width="1" height="1"/>
<rect x="263" y="203" width="1" height="4"/>
<rect x="262" y="204" width="1" height="1"/>
<rect x="264" y="203" width="1" height="1"/>
<rect x="267" y="201" width="1" height="4"/>
<rect x="266" y="203" width="1" height="1"/>
<rect x="268" y="201" width="1" height="1"/>
<rect x="271" y="200" width="1" height="4"/>
<rect x="270" y="201" width="1" height="1"/>
<rect x="272" y="200" width="1" height="1"/>
<rect x="275" y="199" width="1" height="4"/>
<rect x="274" y="200" width="1" height="1"/>
<rect x="276" y="199" width="1" height="1"/>
<rect x="279" y="198" width="1" height="4"/>
<rect x="278" y="199" width="1" height="1"/>
<rect x="280" y="198" width="1" height="1"/>
<rect x="283" y="197" width="1" height="4"/>
<rect x="282" y="198" width="1" height="1"/>
<rect x="284" y="197" width="1" height="1"/>
<rect x="287" y="195" width="1" height="5"/>
<rect x="286" y="197" width="1" height="1"/>
<rect x="288" y="196" width="1" height="1"/>
<rect x="291" y="195" width="1" height="4"/>
<rect x="290" y="196" width="1" height="1"/>
<rect x="292" y="195" width="1" height="1"/>
<rect x="295" y="193" width="1" height="5"/>
<rect x="294" y="195" width="1" height="1"/>
<rect x="296" y="196" width="1" height="1"/>
<rect x="299" y="194" width="1" height="5"/>
<rect x="298" y="196" width="1" height="1"/>
<rect x="300" y="196" width="1" height="1"/>
<rect x="303" y="195" width="1" height="4"/>
<rect x="302" y="196" width="1" height="1"/>
<rect x="304" y="195" width="1" height="1"/>
<rect x="307" y="194" width="1" height="4"/>
<rect x="306" y="195" width="1" height="1"/>
<rect x="308" y="197" width="1" height="1"/>
<rect x="311" y="197" width="1" height="6"/>
<rect x="310" y="197" width="1" height="1"/>
<rect x="312" y="202" width="1" height="1"/>
<rect x="315" y="199" width="1" height="7"/>
<rect x="314" y="202" width="1" height="1"/>
<rect x="316" y="203" width="1" height="1"/>
<rect x="319" y="200" width="1" height="7"/>
<rect x="318" y="203" width="1" height="1"/>
<rect x="320" y="203" width="1" height="1"/>
<rect x="323" y="201" width="1" height="6"/>
<rect x="322" y="203" width="1" height="1"/>
<rect x="324" y="205" width="1" height="1"/>
<rect x="327" y="203" width="1" height="5"/>
<rect x="326" y="205" width="1" height="1"/>
<rect x="328" y="207" width="1" height="1"/>
<rect x="331" y="205" width="1" height="10"/>
<rect x="330" y="207" width="1" height="1"/>
<rect x="332" y="213" width="1" height="1"/>
<rect x="335" y="208" width="1" height="11"/>
<rect x="334" y="213" width="1" height="1"/>
<rect x="336" y="218" width="1" height="1"/>
<rect x="339" y="215" width="1" height="9"/>
<rect x="338" y="218" width="1" height="1"/>
<rect x="340" y="217" width="1" height="1"/>
<rect x="343" y="214" width="1" height="8"/>
<rect x="342" y="217" width="1" height="1"/>
<rect x="344" y="214" width="1" height="1"/>
<rect x="347" y="208" width="1" height="9"/>
<rect x="346" y="214" width="1" height="1"/>
<rect x="348" y="208" width="1" height="1"/>
<rect x="351" y="197" width="1" height="14"/>
<rect x="350" y="208" width="1" height="1"/>
<rect x="352" y="199" width="1" height="1"/>
<rect x="355" y="197" width="1" height="6"/>
<rect x="354" y="199" width="1" height="1"/>
<rect x="356" y="197" width="1" height="1"/>
<rect x="359" y="193" width="1" height="10"/>
<rect x="358" y="197" width="1" height="1"/>
<rect x="360" y="198" width="1" height="1"/>
<rect x="363" y="196" width="1" height="6"/>
<rect x="362" y="198" width="1" height="1"/>
<rect x="364" y="199" width="1" height="1"/>
<rect x="367" y="197" width="1" height="6"/>
<rect x="366" y="199" width="1" height="1"/>
<rect x="368" y="199" width="1" height="1"/>
<rect x="371" y="197" width="1" height="6"/>
<rect x="370" y="199" width="1" height="1"/>
<rect x="372" y="197" width="1" height="1"/>
<rect x="375" y="193" width="1" height="10"/>
<rect x="374" y="197" width="1" height="1"/>
<rect x="376" y="198" width="1" height="1"/>
<rect x="379" y="197" width="1" height="4"/>
<rect x="378" y="198" width="1" height="1"/>
<rect x="380" y="198" width="1" height="1"/>
<rect x="383" y="197" width="1" height="4"/>
<rect x="382" y="198" width="1" height="1"/>
<rect x="384" y="200" width="1" height="1"/>
<rect x="387" y="198" width="1" height="43"/>
<rect x="386" y="200" width="1" height="1"/>
<rect x="388" y="221" width="1" height="1"/>
<rect x="391" y="215" width="1" height="13"/>
<rect x="390" y="221" width="1" height="1"/>
<rect x="392" y="221" width="1" height="1"/>
<rect x="395" y="216" width="1" height="12"/>
<rect x="394" y="221" width="1" height="1"/>
<rect x="396" y="216" width="1" height="1"/>
<rect x="399" y="211" width="1" height="12"/>
<rect x="398" y="216" width="1" height="1"/>
<rect x="400" y="211" width="1" height="1"/>
<rect x="403" y="205" width="1" height="11"/>
<rect x="402" y="211" width="1" height="1"/>
<rect x="404" y="211" width="1" height="1"/>
<rect x="407" y="206" width="1" height="12"/>
<rect x="406" y="211" width="1" height="1"/>
<rect x="408" y="217" width="1" height="1"/>
<rect x="411" y="211" width="1" height="20"/>
<rect x="410" y="217" width="1" height="1"/>
<rect x="412" y="227" width="1" height="1"/>
<rect x="415" y="222" width="1" height="11"/>
<rect x="414" y="227" width="1" height="1"/>
<rect x="416" y="226" width="1" height="1"/>
<rect x="419" y="222" width="1" height="10"/>
<rect x="418" y="226" width="1" height="1"/>
<rect x="420" y="222" width="1" height="1"/>
<rect x="423" y="157" width="1" height="66"/>
<rect x="422" y="222" width="1" height="1"/>
<rect x="424" y="168" width="1" height="1"/>
<rect x="427" y="154" width="1" height="30"/>
<rect x="426" y="168" width="1" height="1"/>
<rect x="428" y="182" width="1" height="1"/>
<rect x="431" y="177" width="1" height="11"/>
<rect x="430" y="182" width="1" height="1"/>
<rect x="432" y="184" width="1" height="1"/>
<rect x="435" y="181" width="1" height="8"/>
<rect x="434" y="184" width="1" height="1"/>
<rect x="436" y="181" width="1" height="1"/>
<rect x="439" y="173" width="1" height="11"/>
<rect x="438" y="181" width="1" height="1"/>
<rect x="440" y="173" width="1" height="1"/>
<rect x="443" y="159" width="1" height="21"/>
<rect x="442" y="173" width="1" height="1"/>
<rect x="444" y="163" width="1" height="1"/>
<rect x="447" y="151" width="1" height="25"/>
<rect x="446" y="163" width="1" height="1"/>
<rect x="448" y="175" width="1" height="1"/>
<rect x="451" y="168" width="1" height="20"/>
<rect x="450" y="175" width="1" height="1"/>
<rect x="452" y="172" width="1" height="1"/>
<rect x="455" y="166" width="1" height="14"/>
<rect x="454" y="172" width="1" height="1"/>
<rect x="456" y="166" width="1" height="1"/>
<rect x="459" y="157" width="1" height="16"/>
<rect x="458" y="166" width="1" height="1"/>
<rect x="460" y="169" width="1" height="1"/>
<rect x="463" y="166" width="1" height="8"/>
<rect x="462" y="169" width="1" height="1"/>
<rect x="464" y="172" width="1" height="1"/>
<rect x="467" y="167" width="1" height="11"/>
<rect x="466" y="172" width="1" height="1"/>
<rect x="468" y="167" width="1" height="1"/>
<rect x="471" y="159" width="1" height="15"/>
<rect x="470" y="167" width="1" height="1"/>
<rect x="472" y="168" width="1" height="1"/>
<rect x="475" y="164" width="1" height="10"/>
<rect x="474" y="168" width="1" height="1"/>
<rect x="476" y="165" width="1" height="1"/>
<rect x="479" y="160" width="1" height="11"/>
<rect x="478" y="165" width="1" height="1"/>
<rect x="480" y="170" width="1" height="1"/>
<rect x="483" y="166" width="1" height="10"/>
<rect x="482" y="170" width="1" height="1"/>
<rect x="484" y="172" width="1" height="1"/>
<rect x="487" y="167" width="1" height="11"/>
<rect x="486" y="172" width="1" height="1"/>
<rect x="488" y="169" width="1" height="1"/>
<rect x="491" y="166" width="1" height="8"/>
<rect x="490" y="169" width="1" height="1"/>
<rect x="492" y="166" width="1" height="1"/>
<rect x="495" y="161" width="1" height="11"/>
<rect x="494" y="166" width="1" height="1"/>
<rect x="496" y="169" width="1" height="1"/>
<rect x="499" y="167" width="1" height="6"/>
<rect x="498" y="169" width="1" height="1"/>
<rect x="500" y="172" width="1" height="1"/>
<rect x="503" y="167" width="1" height="11"/>
<rect x="502" y="172" width="1" height="1"/>
<rect x="504" y="168" width="1" height="1"/>
<rect x="507" y="164" width="1" height="10"/>
<rect x="506" y="168" width="1" height="1"/>
<rect x="508" y="169" width="1" height="1"/>
<rect x="511" y="165" width="1" height="9"/>
<rect x="510" y="169" width="1" height="1"/>
<rect x="512" y="173" width="1" height="1"/>
<rect x="515" y="171" width="1" height="13"/>
<rect x="514" y="173" width="1" height="1"/>
<rect x="516" y="183" width="1" height="1"/>
<rect x="519" y="177" width="1" height="14"/>
<rect x="518" y="183" width="1" height="1"/>
<rect x="520" y="180" width="1" height="1"/>
<rect x="523" y="175" width="1" height="12"/>
<rect x="522" y="180" width="1" height="1"/>
<rect x="524" y="175" width="1" height="1"/>
<rect x="527" y="173" width="1" height="6"/>
<rect x="526" y="175" width="1" height="1"/>
<rect x="528" y="173" width="1" height="1"/>
<rect x="531" y="165" width="1" height="9"/>
<rect x="530" y="173" width="1" height="1"/>
<rect x="532" y="167" width="1" height="1"/>
<rect x="535" y="164" width="1" height="7"/>
<rect x="534" y="167" width="1" height="1"/>
<rect x="536" y="166" width="1" height="1"/>
<rect x="539" y="163" width="1" height="8"/>
<rect x="538" y="166" width="1" height="1"/>
<rect x="540" y="163" width="1" height="1"/>
<rect x="543" y="158" width="1" height="12"/>
<rect x="542" y="163" width="1" height="1"/>
<rect x="544" y="169" width="1" height="1"/>
<rect x="547" y="170" width="1" height="10"/>
<rect x="546" y="170" width="1" height="1"/>
<rect x="548" y="170" width="1" height="1"/>
<rect x="551" y="166" width="1" height="9"/>
<rect x="550" y="170" width="1" height="1"/>
<rect x="552" y="171" width="1" height="1"/>
<rect x="555" y="167" width="1" height="10"/>
<rect x="554" y="171" width="1" height="1"/>
<rect x="556" y="170" width="1" height="1"/>
<rect x="559" y="167" width="1" height="8"/>
<rect x="558" y="170" width="1" height="1"/>
<rect x="560" y="170" width="1" height="1"/>
<rect x="563" y="166" width="1" height="9"/>
<rect x="562" y="170" width="1" height="1"/>
<rect x="564" y="172" width="1" height="1"/>
<rect x="567" y="169" width="1" height="8"/>
<rect x="566" y="172" width="1" height="1"/>
<rect x="568" y="172" width="1" height="1"/>
<rect x="571" y="169" width="1" height="8"/>
<rect x="570" y="172" width="1" height="1"/>
<rect x="572" y="173" width="1" height="1"/>
<rect x="575" y="170" width="1" height="8"/>
<rect x="574" y="173" width="1" height="1"/>
<rect x="576" y="177" width="1" height="1"/>
<rect x="579" y="172" width="1" height="11"/>
<rect x="578" y="177" width="1" height="1"/>
<rect x="580" y="178" width="1" height="1"/>
<rect x="583" y="174" width="1" height="10"/>
<rect x="582" y="178" width="1" height="1"/>
<rect x="584" y="174" width="1" height="1"/>
<rect x="587" y="163" width="1" height="16"/>
<rect x="586" y="174" width="1" height="1"/>
<rect x="588" y="165" width="1" height="1"/>
<rect x="591" y="160" width="1" height="11"/>
<rect x="590" y="165" width="1" height="1"/>
<rect x="592" y="160" width="1" height="1"/>
<rect x="595" y="153" width="1" height="10"/>
<rect x="594" y="160" width="1" height="1"/>
<rect x="596" y="157" width="1" height="1"/>
<rect x="599" y="152" width="1" height="11"/>
<rect x="598" y="157" width="1" height="1"/>
<rect x="600" y="152" width="1" height="1"/>
<rect x="603" y="143" width="1" height="18"/>
<rect x="602" y="152" width="1" height="1"/>
<rect x="604" y="160" width="1" height="1"/>
<rect x="607" y="157" width="1" height="10"/>
<rect x="606" y="160" width="1" height="1"/>
<rect x="608" y="157" width="1" height="1"/>
<rect x="611" y="112" width="1" height="46"/>
<rect x="610" y="157" width="1" height="1"/>
<rect x="612" y="130" width="1" height="1"/>
<rect x="615" y="121" width="1" height="20"/>
<rect x="614" y="130" width="1" height="1"/>
<rect x="616" y="136" width="1" height="1"/>
<rect x="619" y="130" width="1" height="13"/>
<rect x="618" y="136" width="1" height="1"/>
<rect x="620" y="137" width="1" height="1"/>
<rect x="623" y="134" width="1" height="8"/>
<rect x="622" y="137" width="1" height="1"/>
<rect x="624" y="134" width="1" height="1"/>
<rect x="627" y="105" width="1" height="36"/>
<rect x="626" y="134" width="1" height="1"/>
<rect x="628" y="105" width="1" height="1"/>
<rect x="631" y="98" width="1" height="15"/>
<rect x="630" y="105" width="1" height="1"/>
<rect x="632" y="98" width="1" height="1"/>
<rect x="635" y="87" width="1" height="22"/>
<rect x="634" y="98" width="1" height="1"/>
<rect x="636" y="108" width="1" height="1"/>
<rect x="639" y="101" width="1" height="18"/>
<rect x="638" y="108" width="1" height="1"/>
<rect x="640" y="115" width="1" height="1"/>
<rect x="643" y="108" width="1" height="15"/>
<rect x="642" y="115" width="1" height="1"/>
<rect x="644" y="110" width="1" height="1"/>
<rect x="647" y="106" width="1" height="10"/>
<rect x="646" y="110" width="1" height="1"/>
<rect x="648" y="112" width="1" height="1"/>
<rect x="651" y="108" width="1" height="9"/>
<rect x="650" y="112" width="1" height="1"/>
<rect x="652" y="109" width="1" height="1"/>
<rect x="655" y="106" width="1" height="7"/>
<rect x="654" y="109" width="1" height="1"/>
<rect x="656" y="110" width="1" height="1"/>
<rect x="659" y="107" width="1" height="7"/>
<rect x="658" y="110" width="1" height="1"/>
<rect x="660" y="111" width="1" height="1"/>
<rect x="663" y="108" width="1" height="8"/>
<rect x="662" y="111" width="1" height="1"/>
<rect x="664" y="115" width="1" height="1"/>
<rect x="667" y="110" width="1" height="14"/>
<rect x="666" y="115" width="1" height="1"/>
<rect x="668" y="117" width="1" height="1"/>
<rect x="671" y="112" width="1" height="11"/>
<rect x="670" y="117" width="1" height="1"/>
<rect x="672" y="112" width="1" height="1"/>
<rect x="675" y="99" width="1" height="15"/>
<rect x="674" y="112" width="1" height="1"/>
<rect x="676" y="99" width="1" height="1"/>
<rect x="679" y="90" width="1" height="14"/>
<rect x="678" y="99" width="1" height="1"/>
<rect x="680" y="93" width="1" height="1"/>
<rect x="683" y="87" width="1" height="13"/>
<rect x="682" y="93" width="1" height="1"/>
<rect x="684" y="87" width="1" height="1"/>
<rect x="687" y="72" width="1" height="19"/>
<rect x="686" y="87" width="1" height="1"/>
<rect x="688" y="75" width="1" height="1"/>
<rect x="691" y="69" width="1" height="14"/>
<rect x="690" y="75" width="1" height="1"/>
<rect x="692" y="69" width="1" height="1"/>
<rect x="695" y="58" width="1" height="19"/>
<rect x="694" y="69" width="1" height="1"/>
<rect x="696" y="72" width="1" height="1"/>
<rect x="699" y="62" width="1" height="22"/>
<rect x="698" y="72" width="1" height="1"/>
<rect x="700" y="77" width="1" height="1"/>
<rect x="703" y="71" width="1" height="14"/>
<rect x="702" y="77" width="1" height="1"/>
<rect x="704" y="72" width="1" height="1"/>
<rect x="707" y="62" width="1" height="21"/>
<rect x="706" y="72" width="1" height="1"/>
<rect x="708" y="81" width="1" height="1"/>
<rect x="711" y="77" width="1" height="9"/>
<rect x="710" y="81" width="1" height="1"/>
<rect x="712" y="79" width="1" height="1"/>
<rect x="715" y="72" width="1" height="16"/>
<rect x="714" y="79" width="1" height="1"/>
<rect x="716" y="72" width="1" height="1"/>
<rect x="719" y="63" width="1" height="11"/>
<rect x="718" y="72" width="1" height="1"/>
<rect x="720" y="63" width="1" height="1"/>
<rect x="723" y="53" width="1" height="17"/>
<rect x="722" y="63" width="1" height="1"/>
<rect x="724" y="53" width="1" height="1"/>
<rect x="727" y="45" width="1" height="13"/>
<rect x="726" y="53" width="1" height="1"/>
<rect x="728" y="51" width="1" height="1"/>
<rect x="731" y="45" width="1" height="13"/>
<rect x="730" y="51" width="1" height="1"/>
<rect x="732" y="57" width="1" height="1"/>
<rect x="735" y="52" width="1" height="11"/>
<rect x="734" y="57" width="1" height="1"/>
<rect x="736" y="62" width="1" height="1"/>
<rect x="739" y="57" width="1" height="11"/>
<rect x="738" y="62" width="1" height="1"/>
<rect x="740" y="63" width="1" height="1"/>
<rect x="743" y="60" width="1" height="8"/>
<rect x="742" y="63" width="1" height="1"/>
<rect x="744" y="67" width="1" height="1"/>
<rect x="747" y="64" width="1" height="12"/>
<rect x="746" y="67" width="1" height="1"/>
<rect x="748" y="65" width="1" height="1"/>
<rect x="751" y="51" width="1" height="29"/>
<rect x="750" y="65" width="1" height="1"/>
<rect x="752" y="51" width="1" height="1"/>
<rect x="755" y="39" width="1" height="20"/>
<rect x="754" y="51" width="1" height="1"/>
<rect x="756" y="47" width="1" height="1"/>
<rect x="759" y="42" width="1" height="11"/>
<rect x="758" y="47" width="1" height="1"/>
<rect x="760" y="44" width="1" height="1"/>
<rect x="763" y="40" width="1" height="9"/>
<rect x="762" y="44" width="1" height="1"/>
<rect x="764" y="40" width="1" height="1"/>
<rect x="767" y="27" width="1" height="22"/>
<rect x="766" y="40" width="1" height="1"/>
<rect x="768" y="29" width="1" height="1"/>
<rect x="771" y="23" width="1" height="14"/>
<rect x="770" y="29" width="1" height="1"/>
<rect x="772" y="36" width="1" height="1"/>
<rect x="775" y="34" width="1" height="19"/>
<rect x="774" y="36" width="1" height="1"/>
<rect x="776" y="38" width="1" height="1"/>
<rect x="779" y="26" width="1" height="25"/>
<rect x="778" y="38" width="1" height="1"/>
<rect x="780" y="26" width="1" height="1"/>
<rect x="783" y="16" width="1" height="14"/>
<rect x="782" y="26" width="1" height="1"/>
<rect x="784" y="18" width="1" height="1"/>
<rect x="787" y="10" width="1" height="17"/>
<rect x="786" y="18" width="1" height="1"/>
<rect x="788" y="21" width="1" height="1"/>
<rect x="791" y="17" width="1" height="9"/>
<rect x="790" y="21" width="1" height="1"/>
<rect x="792" y="20" width="1" height="1"/>
<rect x="795" y="15" width="1" height="11"/>
<rect x="794" y="20" width="1" height="1"/>
<rect x="796" y="25" width="1" height="1"/>
<rect x="799" y="21" width="1" height="9"/>
<rect x="798" y="25" width="1" height="1"/>
<rect x="800" y="27" width="1" height="1"/>
<rect x="803" y="24" width="1" height="8"/>
<rect x="802" y="27" width="1" height="1"/>
<rect x="804" y="30" width="1" height="1"/>
<rect x="807" y="25" width="1" height="11"/>
<rect x="806" y="30" width="1" height="1"/>
<rect x="808" y="26" width="1" height="1"/>
<rect x="811" y="20" width="1" height="13"/>
<rect x="810" y="26" width="1" height="1"/>
<rect x="812" y="28" width="1" height="1"/>
<rect x="815" y="24" width="1" height="10"/>
<rect x="814" y="28" width="1" height="1"/>
<rect x="816" y="24" width="1" height="1"/>
<rect x="819" y="14" width="1" height="21"/>
<rect x="818" y="24" width="1" height="1"/>
<rect x="820" y="21" width="1" height="1"/>
<rect x="823" y="18" width="1" height="8"/>
<rect x="822" y="21" width="1" height="1"/>
<rect x="824" y="18" width="1" height="1"/>
<rect x="827" y="14" width="1" height="9"/>
<rect x="826" y="18" width="1" height="1"/>
<rect x="828" y="21" width="1" height="1"/>
<rect x="831" y="16" width="1" height="12"/>
<rect x="830" y="21" width="1" height="1"/>
<rect x="832" y="25" width="1" height="1"/>
<rect x="835" y="20" width="1" height="11"/>
<rect x="834" y="25" width="1" height="1"/>
<rect x="836" y="25" width="1" height="1"/>
<rect x="839" y="19" width="1" height="13"/>
<rect x="838" y="25" width="1" height="1"/>
<rect x="840" y="28" width="1" height="1"/>
<rect x="843" y="21" width="1" height="15"/>
<rect x="842" y="28" width="1" height="1"/>
<rect x="844" y="30" width="1" height="1"/>
<rect x="847" y="26" width="1" height="10"/>
<rect x="846" y="30" width="1" height="1"/>
<rect x="848" y="35" width="1" height="1"/>
<rect x="851" y="29" width="1" height="15"/>
<rect x="850" y="35" width="1" height="1"/>
<rect x="852" y="38" width="1" height="1"/>
<rect x="855" y="31" width="1" height="16"/>
<rect x="854" y="38" width="1" height="1"/>
<rect x="856" y="41" width="1" height="1"/>
<rect x="859" y="35" width="1" height="13"/>
<rect x="858" y="41" width="1" height="1"/>
<rect x="860" y="43" width="1" height="1"/>
<rect x="863" y="39" width="1" height="9"/>
<rect x="862" y="43" width="1" height="1"/>
<rect x="864" y="43" width="1" height="1"/>
<rect x="867" y="41" width="1" height="6"/>
<rect x="866" y="43" width="1" height="1"/>
<rect x="868" y="46" width="1" height="1"/>
<rect x="871" y="43" width="1" height="11"/>
<rect x="870" y="46" width="1" height="1"/>
<rect x="872" y="52" width="1" height="1"/>
<rect x="875" y="48" width="1" height="9"/>
<rect x="874" y="52" width="1" height="1"/>
<rect x="876" y="48" width="1" height="1"/>
<rect x="879" y="41" width="1" height="12"/>
<rect x="878" y="48" width="1" height="1"/>
<rect x="880" y="41" width="1" height="1"/>
<rect x="883" y="33" width="1" height="11"/>
<rect x="882" y="41" width="1" height="1"/>
<rect x="884" y="33" width="1" height="1"/>
<rect x="887" y="22" width="1" height="14"/>
<rect x="886" y="33" width="1" height="1"/>
<rect x="888" y="30" width="1" height="1"/>
<rect x="891" y="26" width="1" height="9"/>
<rect x="890" y="30" width="1" height="1"/>
<rect x="892" y="34" width="1" height="1"/>
<rect x="895" y="31" width="1" height="7"/>
<rect x="894" y="34" width="1" height="1"/>
<rect x="896" y="37" width="1" height="1"/>
<rect x="899" y="36" width="1" height="13"/>
<rect x="898" y="37" width="1" height="1"/>
<rect x="900" y="43" width="1" height="1"/>
<rect x="903" y="41" width="1" height="6"/>
<rect x="902" y="43" width="1" height="1"/>
<rect x="904" y="43" width="1" height="1"/>
<rect x="907" y="41" width="1" height="6"/>
<rect x="906" y="43" width="1" height="1"/>
<rect x="908" y="44" width="1" height="1"/>
<rect x="911" y="42" width="1" height="5"/>
<rect x="910" y="44" width="1" height="1"/>
<rect x="912" y="46" width="1" height="1"/>
<rect x="915" y="43" width="1" height="10"/>
<rect x="914" y="46" width="1" height="1"/>
<rect x="916" y="49" width="1" height="1"/>
<rect x="919" y="46" width="1" height="8"/>
<rect x="918" y="49" width="1" height="1"/>
<rect x="920" y="47" width="1" height="1"/>
<rect x="923" y="45" width="1" height="6"/>
<rect x="922" y="47" width="1" height="1"/>
<rect x="924" y="50" width="1" height="1"/>
<rect x="927" y="50" width="1" height="7"/>
<rect x="926" y="50" width="1" height="1"/>
<rect x="928" y="56" width="1" height="1"/>
<rect x="931" y="53" width="1" height="13"/>
<rect x="930" y="56" width="1" height="1"/>
<rect x="932" y="62" width="1" height="1"/>
<rect x="935" y="57" width="1" height="11"/>
<rect x="934" y="62" width="1" height="1"/>
<rect x="936" y="64" width="1" height="1"/>
<rect x="939" y="61" width="1" height="7"/>
<rect x="938" y="64" width="1" height="1"/>
<rect x="940" y="64" width="1" height="1"/>
</g>
<polyline points="3,219.4 29,218.2 43.5,208.6 64,208.6 70,209.2 82,209.2 100,207 110,204.7 120,204.2 135,201 147,198.5 155,200 160,202 165,204.2 186,204.5 196,204.5 221,204.6 224,205.8 235,205.8 240,204.2 262,203.7 270,202.6 275,201 288,198.2 300.4,195.9 311.4,195.9 322.3,200.4 330.6,204.5 336,209.3 344.3,214.1 349.8,212 356.7,207.5 363.5,203.1 371.8,201 377.3,199.5 382.7,198.4 387.2,203.5 392.7,210.7 398.1,214.7 406.3,214 410.8,216.2 418,222 421.7,218 424.4,208 427.1,199 433.5,190.8 441.6,179.7 447,171.7 454.3,170.8 458.9,167.2 468,166.3 473.4,163.9 482.4,163.9 486,165.9 498.8,165.9 502.4,167.4 512,168.2 516.4,172.5 520.4,175.6 525.9,175.6 532,173.4 537,169 541.4,168.5 560.4,168.5 564.7,170.4 576,173.4 580.3,174.7 587.2,174.7 589.8,171.6 596.7,164.7 603.6,159 607.9,158.7 612.2,150 617.4,140.6 620.8,137.1 625.2,134.5 628.6,127.6 631,124.3 634.5,113.1 641.2,107.5 650.2,104.8 659.2,104.1 667,108.6 674.9,109.1 681.6,103 688.3,89.6 695,76.1 700.7,71.6 715.3,72 722,66 728.7,55.9 734.3,53.7 740,54.8 746.7,58.6 752.3,58.6 759,53.7 764.6,46 771.8,37.7 778.6,37.3 785.5,27.5 796.3,18.7 799.2,19.1 805.1,22 818.8,22.6 828.6,18.7 838.4,20.7 844.3,23.6 852.2,29.5 863.9,38.3 871.8,44.2 875.7,48.1 880.6,47.5 885.5,43.2 890.4,38.7 897.3,38.3 903.1,41.3 911,42 918.8,46.4 924.1,47.1 930.6,51.2 935,55.6 939.4,60" fill="none" stroke="#FFD700" stroke-width="2" shape-rendering="crispEdges" stroke-linejoin="round"/>
<polyline points="3,223.5 29,220.4 47,217.6 64,212.4 94,211.2 108,208.8 120,206.5 130,205 143,203.6 155.3,202.4 164.2,202.4" fill="none" stroke="#1E90FF" stroke-width="3" shape-rendering="crispEdges" stroke-linejoin="round" stroke-linecap="butt"/>
<polyline points="164.2,202.4 186.9,202.4" fill="none" stroke="#FF1493" stroke-width="3" shape-rendering="crispEdges" stroke-linejoin="round" stroke-linecap="butt"/>
<polyline points="186.9,202.4 196.5,202.4" fill="none" stroke="#1E90FF" stroke-width="3" shape-rendering="crispEdges" stroke-linejoin="round" stroke-linecap="butt"/>
<polyline points="196.5,202.4 221,202.4 222.5,203.5 262.6,203.5" fill="none" stroke="#FF1493" stroke-width="3" shape-rendering="crispEdges" stroke-linejoin="round" stroke-linecap="butt"/>
<polyline points="262.6,203.5 285.3,203.5 305.9,198.4 316.2,198.4" fill="none" stroke="#1E90FF" stroke-width="3" shape-rendering="crispEdges" stroke-linejoin="round" stroke-linecap="butt"/>
<polyline points="316.2,198.4 329.2,198.5 345.7,205.2 354.6,205.2" fill="none" stroke="#FF1493" stroke-width="3" shape-rendering="crispEdges" stroke-linejoin="round" stroke-linecap="butt"/>
<polyline points="354.6,205.2 380,205.2 384.1,202.2" fill="none" stroke="#1E90FF" stroke-width="3" shape-rendering="crispEdges" stroke-linejoin="round" stroke-linecap="butt"/>
<polyline points="384.1,202.2 397.2,202.9 407.2,203.8 412.6,208 418.6,214.2" fill="none" stroke="#FF1493" stroke-width="3" shape-rendering="crispEdges" stroke-linejoin="round" stroke-linecap="butt"/>
<polyline points="418.6,214.2 432.2,214.2 439.8,207.5 448,198.9 453.4,191.7 457,180.8 459.2,174.8 468,174.6 472.5,173.5 478.8,169.4 512.4,169.4" fill="none" stroke="#1E90FF" stroke-width="3" shape-rendering="crispEdges" stroke-linejoin="round" stroke-linecap="butt"/>
<polyline points="512.4,169.4 520.7,171.1 534.5,171.1" fill="none" stroke="#FF1493" stroke-width="3" shape-rendering="crispEdges" stroke-linejoin="round" stroke-linecap="butt"/>
<polyline points="534.5,171.1 568.2,171.1" fill="none" stroke="#1E90FF" stroke-width="3" shape-rendering="crispEdges" stroke-linejoin="round" stroke-linecap="butt"/>
<polyline points="568.2,171.1 576,171.3 585,172.5 587.2,172.5" fill="none" stroke="#FF1493" stroke-width="3" shape-rendering="crispEdges" stroke-linejoin="round" stroke-linecap="butt"/>
<polyline points="587.2,172.5 601.8,172.5 607,169.9 614,163.9 620.8,156.1 628.6,146.3 641.2,130 648,122.8 652.4,121.4 663.7,111.3 683.8,111.3 697.3,100.8 708.5,90.7 724.2,73.2 731,70.5 742.2,69.8 751.2,67.1 756.8,61.5 764.6,59.9 767.8,58.9 771.8,56.5 775.7,56.5 783.5,48.1 791.4,38.3 799.2,32.8 811,31.5 817.8,26.9 828.6,26.2 832.5,25 844.3,25" fill="none" stroke="#1E90FF" stroke-width="3" shape-rendering="crispEdges" stroke-linejoin="round" stroke-linecap="butt"/>
<polyline points="844.3,25 859,25 869.8,33.8 879.6,39.3 886.5,39.3" fill="none" stroke="#FF1493" stroke-width="3" shape-rendering="crispEdges" stroke-linejoin="round" stroke-linecap="butt"/>
<polyline points="886.5,39.3 900.2,39.3" fill="none" stroke="#1E90FF" stroke-width="3" shape-rendering="crispEdges" stroke-linejoin="round" stroke-linecap="butt"/>
<polyline points="900.2,39.3 923.7,39.3 930.6,44.8 940,49.5" fill="none" stroke="#FF1493" stroke-width="3" shape-rendering="crispEdges" stroke-linejoin="round" stroke-linecap="butt"/>
<g fill="none" stroke="#fff" stroke-width="1" shape-rendering="crispEdges">
<rect x="2.5" y="2.5" width="975" height="249"/>
<rect x="2.5" y="253.5" width="975" height="89"/>
<rect x="2.5" y="344.5" width="975" height="44"/>
<rect x="2.5" y="390.5" width="975" height="68"/>
<rect x="2.5" y="460.5" width="975" height="98"/>
</g>
<g fill="#fff" shape-rendering="crispEdges">
<rect x="976" y="175" width="3" height="69"/>
<rect x="978" y="17" width="2" height="1"/>
<rect x="978" y="50" width="2" height="1"/>
<rect x="978" y="83" width="2" height="1"/>
<rect x="978" y="116" width="2" height="1"/>
<rect x="978" y="149" width="2" height="1"/>
<rect x="978" y="182" width="2" height="1"/>
<rect x="978" y="215" width="2" height="1"/>
<rect x="978" y="248" width="2" height="1"/>
<rect x="978" y="342" width="1" height="1" fill="#999"/>
<rect x="978" y="388" width="1" height="1" fill="#999"/>
<rect x="978" y="458" width="1" height="1" fill="#999"/>
<rect x="978" y="558" width="1" height="1" fill="#999"/>
<rect x="3" y="558" width="1" height="4"/>
<rect x="67" y="558" width="1" height="4"/>
<rect x="131" y="558" width="1" height="4"/>
<rect x="195" y="558" width="1" height="4"/>
<rect x="259" y="558" width="1" height="4"/>
<rect x="323" y="558" width="1" height="4"/>
<rect x="387" y="558" width="1" height="4"/>
<rect x="451" y="558" width="1" height="4"/>
<rect x="515" y="558" width="1" height="4"/>
<rect x="579" y="558" width="1" height="4"/>
<rect x="643" y="558" width="1" height="4"/>
<rect x="707" y="558" width="1" height="4"/>
<rect x="771" y="558" width="1" height="4"/>
<rect x="835" y="558" width="1" height="4"/>
<rect x="899" y="558" width="1" height="4"/>
</g>
<path d="M6 9 L13 9 L9.5 13 Z" fill="#fff"/>
<text x="18.4" y="14.3" fill="#fff" stroke="#fff" stroke-width="0.25" font-size="9.4" textLength="55" lengthAdjust="spacingAndGlyphs" text-anchor="start" xml:space="preserve">GBPUSD,M5</text>
<text x="79.5" y="14.3" fill="#fff" stroke="#fff" stroke-width="0.25" font-size="9.4" textLength="32.3" lengthAdjust="spacingAndGlyphs" text-anchor="start" xml:space="preserve">1.26240</text>
<text x="115.8" y="14.3" fill="#fff" stroke="#fff" stroke-width="0.25" font-size="9.4" textLength="32" lengthAdjust="spacingAndGlyphs" text-anchor="start" xml:space="preserve">1.26261</text>
<text x="151.8" y="14.3" fill="#fff" stroke="#fff" stroke-width="0.25" font-size="9.4" textLength="31.8" lengthAdjust="spacingAndGlyphs" text-anchor="start" xml:space="preserve">1.26231</text>
<text x="187.6" y="14.3" fill="#fff" stroke="#fff" stroke-width="0.25" font-size="9.4" textLength="32.4" lengthAdjust="spacingAndGlyphs" text-anchor="start" xml:space="preserve">1.26231</text>
<text x="983.4" y="21.2" fill="#fff" stroke="#fff" stroke-width="0.25" font-size="9.4" textLength="32.6" lengthAdjust="spacingAndGlyphs" text-anchor="start" xml:space="preserve">1.26648</text>
<text x="983.4" y="54.2" fill="#fff" stroke="#fff" stroke-width="0.25" font-size="9.4" textLength="32.6" lengthAdjust="spacingAndGlyphs" text-anchor="start" xml:space="preserve">1.26363</text>
<text x="983.4" y="87.2" fill="#fff" stroke="#fff" stroke-width="0.25" font-size="9.4" textLength="32.6" lengthAdjust="spacingAndGlyphs" text-anchor="start" xml:space="preserve">1.26083</text>
<text x="983.4" y="120.2" fill="#fff" stroke="#fff" stroke-width="0.25" font-size="9.4" textLength="32.6" lengthAdjust="spacingAndGlyphs" text-anchor="start" xml:space="preserve">1.25798</text>
<text x="983.4" y="153.2" fill="#fff" stroke="#fff" stroke-width="0.25" font-size="9.4" textLength="32.6" lengthAdjust="spacingAndGlyphs" text-anchor="start" xml:space="preserve">1.25518</text>
<text x="983.4" y="186.2" fill="#fff" stroke="#fff" stroke-width="0.25" font-size="9.4" textLength="32.6" lengthAdjust="spacingAndGlyphs" text-anchor="start" xml:space="preserve">1.25233</text>
<text x="983.4" y="219.2" fill="#fff" stroke="#fff" stroke-width="0.25" font-size="9.4" textLength="32.6" lengthAdjust="spacingAndGlyphs" text-anchor="start" xml:space="preserve">1.24948</text>
<text x="983.4" y="252.2" fill="#fff" stroke="#fff" stroke-width="0.25" font-size="9.4" textLength="32.6" lengthAdjust="spacingAndGlyphs" text-anchor="start" xml:space="preserve">1.24668</text>
<rect x="979" y="61" width="41" height="11" fill="#fff" shape-rendering="crispEdges"/>
<text x="983.4" y="70.2" fill="#000" stroke="#000" stroke-width="0.25" font-size="9.4" textLength="32.6" lengthAdjust="spacingAndGlyphs" text-anchor="start" xml:space="preserve">1.26231</text>
<text x="7.5" y="266.2" fill="#fff" stroke="#fff" stroke-width="0.25" font-size="9.4" textLength="11.7" lengthAdjust="spacingAndGlyphs" text-anchor="start" xml:space="preserve">M5</text>
<text x="23.3" y="266.2" fill="#fff" stroke="#fff" stroke-width="0.25" font-size="9.4" textLength="43.4" lengthAdjust="spacingAndGlyphs" text-anchor="start" xml:space="preserve">normalized</text>
<text x="70" y="266.2" fill="#fff" stroke="#fff" stroke-width="0.25" font-size="9.4" textLength="15" lengthAdjust="spacingAndGlyphs" text-anchor="start" xml:space="preserve">RSI</text>
<text x="89.2" y="266.2" fill="#fff" stroke="#fff" stroke-width="0.25" font-size="9.4" textLength="15.8" lengthAdjust="spacingAndGlyphs" text-anchor="start" xml:space="preserve">(10)</text>
<text x="108.3" y="266.2" fill="#fff" stroke="#fff" stroke-width="0.25" font-size="9.4" textLength="30" lengthAdjust="spacingAndGlyphs" text-anchor="start" xml:space="preserve">-0.6961</text>
<text x="142.5" y="266.2" fill="#fff" stroke="#fff" stroke-width="0.25" font-size="9.4" textLength="30" lengthAdjust="spacingAndGlyphs" text-anchor="start" xml:space="preserve">-0.6961</text>
<text x="981.5" y="264" fill="#fff" stroke="#fff" stroke-width="0.25" font-size="9.4" textLength="13" lengthAdjust="spacingAndGlyphs" text-anchor="start" xml:space="preserve">1.1</text>
<text x="980" y="294" fill="#fff" stroke="#fff" stroke-width="0.25" font-size="9.4" textLength="13" lengthAdjust="spacingAndGlyphs" text-anchor="start" xml:space="preserve">0.2</text>
<text x="980" y="302" fill="#fff" stroke="#fff" stroke-width="0.25" font-size="9.4" textLength="18" lengthAdjust="spacingAndGlyphs" text-anchor="start" xml:space="preserve">0.00</text>
<text x="980" y="302" fill="#fff" stroke="#fff" stroke-width="0.25" font-size="9.4" textLength="5" lengthAdjust="spacingAndGlyphs" text-anchor="start" xml:space="preserve">0</text>
<text x="980" y="310" fill="#fff" stroke="#fff" stroke-width="0.25" font-size="9.4" textLength="16" lengthAdjust="spacingAndGlyphs" text-anchor="start" xml:space="preserve">-0.2</text>
<text x="981" y="339.2" fill="#fff" stroke="#fff" stroke-width="0.25" font-size="9.4" textLength="16" lengthAdjust="spacingAndGlyphs" text-anchor="start" xml:space="preserve">-1.1</text>
<text x="7.5" y="357.2" fill="#fff" stroke="#fff" stroke-width="0.25" font-size="9.4" textLength="88.3" lengthAdjust="spacingAndGlyphs" text-anchor="start" xml:space="preserve">IBS_RSI_CCI_v4.03</text>
<text x="99.7" y="357.2" fill="#fff" stroke="#fff" stroke-width="0.25" font-size="9.4" textLength="18.3" lengthAdjust="spacingAndGlyphs" text-anchor="start" xml:space="preserve">histo</text>
<text x="121.7" y="357.2" fill="#fff" stroke="#fff" stroke-width="0.25" font-size="9.4" textLength="26.6" lengthAdjust="spacingAndGlyphs" text-anchor="start" xml:space="preserve">1.0000</text>
<text x="982" y="355" fill="#fff" stroke="#fff" stroke-width="0.25" font-size="9.4" textLength="5" lengthAdjust="spacingAndGlyphs" text-anchor="start" xml:space="preserve">1</text>
<text x="981.5" y="385" fill="#fff" stroke="#fff" stroke-width="0.25" font-size="9.4" textLength="5" lengthAdjust="spacingAndGlyphs" text-anchor="start" xml:space="preserve">0</text>
<text x="7.5" y="403.2" fill="#fff" stroke="#fff" stroke-width="0.25" font-size="9.4" textLength="75" lengthAdjust="spacingAndGlyphs" text-anchor="start" xml:space="preserve">IBS_RSI_CCI_v4</text>
<text x="86.7" y="403.2" fill="#fff" stroke="#fff" stroke-width="0.25" font-size="9.4" textLength="6.6" lengthAdjust="spacingAndGlyphs" text-anchor="start" xml:space="preserve">+</text>
<text x="96.7" y="403.2" fill="#fff" stroke="#fff" stroke-width="0.25" font-size="9.4" textLength="18.3" lengthAdjust="spacingAndGlyphs" text-anchor="start" xml:space="preserve">alert</text>
<text x="117.5" y="403.2" fill="#fff" stroke="#fff" stroke-width="0.25" font-size="9.4" textLength="13.3" lengthAdjust="spacingAndGlyphs" text-anchor="start" xml:space="preserve">mtf</text>
<text x="133.3" y="403.2" fill="#fff" stroke="#fff" stroke-width="0.25" font-size="9.4" textLength="41.7" lengthAdjust="spacingAndGlyphs" text-anchor="start" xml:space="preserve">-135.1074</text>
<text x="179.2" y="403.2" fill="#fff" stroke="#fff" stroke-width="0.25" font-size="9.4" textLength="34.5" lengthAdjust="spacingAndGlyphs" text-anchor="start" xml:space="preserve">-38.1328</text>
<text x="981.5" y="400.6" fill="#fff" stroke="#fff" stroke-width="0.25" font-size="9.4" textLength="37" lengthAdjust="spacingAndGlyphs" text-anchor="start" xml:space="preserve">173.0799</text>
<text x="980.5" y="430" fill="#fff" stroke="#fff" stroke-width="0.25" font-size="9.4" textLength="18" lengthAdjust="spacingAndGlyphs" text-anchor="start" xml:space="preserve">0.00</text>
<text x="980.5" y="430" fill="#fff" stroke="#fff" stroke-width="0.25" font-size="9.4" textLength="5" lengthAdjust="spacingAndGlyphs" text-anchor="start" xml:space="preserve">0</text>
<text x="980.5" y="454.6" fill="#fff" stroke="#fff" stroke-width="0.25" font-size="9.4" textLength="39.5" lengthAdjust="spacingAndGlyphs" text-anchor="start" xml:space="preserve">-162.0208</text>
<text x="7.3" y="473.2" fill="#fff" stroke="#fff" stroke-width="0.25" font-size="9.4" textLength="120.7" lengthAdjust="spacingAndGlyphs" text-anchor="start" xml:space="preserve">(TrendCCI: 13, EntryCCI: 5)</text>
<text x="135.5" y="473.2" fill="#fff" stroke="#fff" stroke-width="0.25" font-size="9.4" textLength="26.5" lengthAdjust="spacingAndGlyphs" text-anchor="start" xml:space="preserve">0.0000</text>
<text x="167" y="473.2" fill="#fff" stroke="#fff" stroke-width="0.25" font-size="9.4" textLength="38.8" lengthAdjust="spacingAndGlyphs" text-anchor="start" xml:space="preserve">-157.2507</text>
<text x="210.7" y="473.2" fill="#fff" stroke="#fff" stroke-width="0.25" font-size="9.4" textLength="26.7" lengthAdjust="spacingAndGlyphs" text-anchor="start" xml:space="preserve">0.0000</text>
<text x="240.9" y="473.2" fill="#fff" stroke="#fff" stroke-width="0.25" font-size="9.4" textLength="27.3" lengthAdjust="spacingAndGlyphs" text-anchor="start" xml:space="preserve">0.0000</text>
<text x="272.8" y="473.2" fill="#fff" stroke="#fff" stroke-width="0.25" font-size="9.4" textLength="39.7" lengthAdjust="spacingAndGlyphs" text-anchor="start" xml:space="preserve">-157.2507</text>
<text x="316.9" y="473.2" fill="#fff" stroke="#fff" stroke-width="0.25" font-size="9.4" textLength="34.5" lengthAdjust="spacingAndGlyphs" text-anchor="start" xml:space="preserve">-93.6517</text>
<text x="355.4" y="473.2" fill="#fff" stroke="#fff" stroke-width="0.25" font-size="9.4" textLength="27.6" lengthAdjust="spacingAndGlyphs" text-anchor="start" xml:space="preserve">0.0000</text>
<text x="981" y="468" fill="#fff" stroke="#fff" stroke-width="0.25" font-size="9.4" textLength="15" lengthAdjust="spacingAndGlyphs" text-anchor="start" xml:space="preserve">350</text>
<text x="981" y="470.2" fill="#fff" stroke="#fff" stroke-width="0.25" font-size="9.4" textLength="37" lengthAdjust="spacingAndGlyphs" text-anchor="start" xml:space="preserve">375.4058</text>
<text x="981" y="483.8" fill="#fff" stroke="#fff" stroke-width="0.25" font-size="9.4" textLength="15" lengthAdjust="spacingAndGlyphs" text-anchor="start" xml:space="preserve">250</text>
<text x="981" y="496.8" fill="#fff" stroke="#fff" stroke-width="0.25" font-size="9.4" textLength="15" lengthAdjust="spacingAndGlyphs" text-anchor="start" xml:space="preserve">160</text>
<text x="980.5" y="520.6" fill="#fff" stroke="#fff" stroke-width="0.25" font-size="9.4" textLength="18" lengthAdjust="spacingAndGlyphs" text-anchor="start" xml:space="preserve">0.00</text>
<text x="980.5" y="520.6" fill="#fff" stroke="#fff" stroke-width="0.25" font-size="9.4" textLength="5" lengthAdjust="spacingAndGlyphs" text-anchor="start" xml:space="preserve">0</text>
<text x="980.5" y="543.5" fill="#fff" stroke="#fff" stroke-width="0.25" font-size="9.4" textLength="19" lengthAdjust="spacingAndGlyphs" text-anchor="start" xml:space="preserve">-160</text>
<text x="980.5" y="557" fill="#fff" stroke="#fff" stroke-width="0.25" font-size="9.4" textLength="19" lengthAdjust="spacingAndGlyphs" text-anchor="start" xml:space="preserve">-250</text>
<text x="980.5" y="555" fill="#fff" stroke="#fff" stroke-width="0.25" font-size="9.4" textLength="39.5" lengthAdjust="spacingAndGlyphs" text-anchor="start" xml:space="preserve">-277.4562</text>
<text x="3" y="571.2" fill="#fff" stroke="#fff" stroke-width="0.25" font-size="9.4" textLength="50.8" lengthAdjust="spacingAndGlyphs" text-anchor="start" xml:space="preserve">12 Dec 2018</text>
<text x="67" y="571.2" fill="#fff" stroke="#fff" stroke-width="0.25" font-size="9.4" textLength="53.6" lengthAdjust="spacingAndGlyphs" text-anchor="start" xml:space="preserve">12 Dec 02:55</text>
<text x="131" y="571.2" fill="#fff" stroke="#fff" stroke-width="0.25" font-size="9.4" textLength="53.6" lengthAdjust="spacingAndGlyphs" text-anchor="start" xml:space="preserve">12 Dec 04:15</text>
<text x="195" y="571.2" fill="#fff" stroke="#fff" stroke-width="0.25" font-size="9.4" textLength="53.6" lengthAdjust="spacingAndGlyphs" text-anchor="start" xml:space="preserve">12 Dec 05:35</text>
<text x="259" y="571.2" fill="#fff" stroke="#fff" stroke-width="0.25" font-size="9.4" textLength="53.6" lengthAdjust="spacingAndGlyphs" text-anchor="start" xml:space="preserve">12 Dec 06:55</text>
<text x="323" y="571.2" fill="#fff" stroke="#fff" stroke-width="0.25" font-size="9.4" textLength="53.6" lengthAdjust="spacingAndGlyphs" text-anchor="start" xml:space="preserve">12 Dec 08:15</text>
<text x="387" y="571.2" fill="#fff" stroke="#fff" stroke-width="0.25" font-size="9.4" textLength="53.6" lengthAdjust="spacingAndGlyphs" text-anchor="start" xml:space="preserve">12 Dec 09:35</text>
<text x="451" y="571.2" fill="#fff" stroke="#fff" stroke-width="0.25" font-size="9.4" textLength="53.6" lengthAdjust="spacingAndGlyphs" text-anchor="start" xml:space="preserve">12 Dec 10:55</text>
<text x="515" y="571.2" fill="#fff" stroke="#fff" stroke-width="0.25" font-size="9.4" textLength="53.6" lengthAdjust="spacingAndGlyphs" text-anchor="start" xml:space="preserve">12 Dec 12:15</text>
<text x="579" y="571.2" fill="#fff" stroke="#fff" stroke-width="0.25" font-size="9.4" textLength="53.6" lengthAdjust="spacingAndGlyphs" text-anchor="start" xml:space="preserve">12 Dec 13:35</text>
<text x="643" y="571.2" fill="#fff" stroke="#fff" stroke-width="0.25" font-size="9.4" textLength="53.6" lengthAdjust="spacingAndGlyphs" text-anchor="start" xml:space="preserve">12 Dec 14:55</text>
<text x="707" y="571.2" fill="#fff" stroke="#fff" stroke-width="0.25" font-size="9.4" textLength="53.6" lengthAdjust="spacingAndGlyphs" text-anchor="start" xml:space="preserve">12 Dec 16:15</text>
<text x="771" y="571.2" fill="#fff" stroke="#fff" stroke-width="0.25" font-size="9.4" textLength="53.6" lengthAdjust="spacingAndGlyphs" text-anchor="start" xml:space="preserve">12 Dec 17:35</text>
<text x="835" y="571.2" fill="#fff" stroke="#fff" stroke-width="0.25" font-size="9.4" textLength="53.6" lengthAdjust="spacingAndGlyphs" text-anchor="start" xml:space="preserve">12 Dec 18:55</text>
<text x="899" y="571.2" fill="#fff" stroke="#fff" stroke-width="0.25" font-size="9.4" textLength="53.6" lengthAdjust="spacingAndGlyphs" text-anchor="start" xml:space="preserve">12 Dec 20:15</text>
</svg></body></html>
